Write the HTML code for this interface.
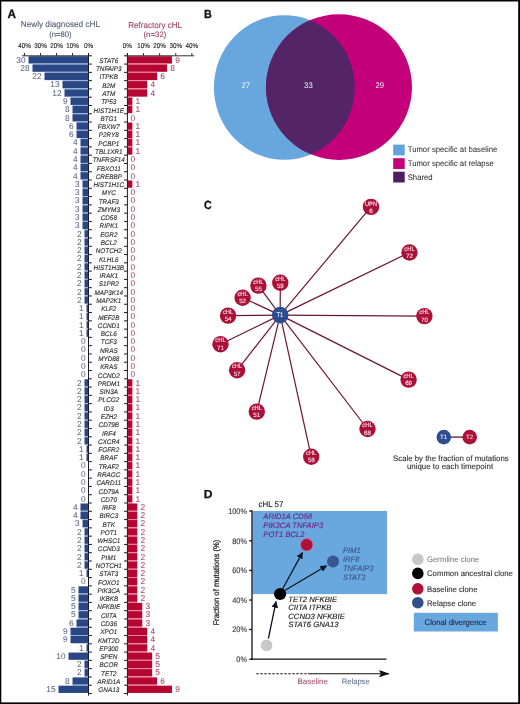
<!DOCTYPE html>
<html><head><meta charset="utf-8"><style>
html,body{margin:0;padding:0;background:#fff;}
body{width:520px;height:704px;overflow:hidden;}
svg{display:block;will-change:transform;}
svg text{font-family:"Liberation Sans", sans-serif;text-rendering:geometricPrecision;}
</style></head><body>
<svg width="520" height="704" viewBox="0 0 520 704">
<rect x="0" y="0" width="520" height="704" fill="#fff"/>
<text x="7.50" y="17.70" font-size="12.3" fill="#111" font-weight="bold" textLength="8.50" lengthAdjust="spacingAndGlyphs" stroke="#111" stroke-width="0.3" >A</text>
<text x="60.40" y="27.40" font-size="8.6" fill="#58647c" text-anchor="middle" textLength="79.20" lengthAdjust="spacingAndGlyphs" stroke="#58647c" stroke-width="0.12" >Newly diagnosed cHL</text>
<text x="60.35" y="36.50" font-size="8.0" fill="#58647c" text-anchor="middle" textLength="22.30" lengthAdjust="spacingAndGlyphs" stroke="#58647c" stroke-width="0.12" >(n=80)</text>
<text x="155.15" y="27.50" font-size="8.6" fill="#a0456a" text-anchor="middle" textLength="53.90" lengthAdjust="spacingAndGlyphs" stroke="#a0456a" stroke-width="0.12" >Refractory cHL</text>
<text x="155.00" y="36.50" font-size="8.0" fill="#a0456a" text-anchor="middle" textLength="23.00" lengthAdjust="spacingAndGlyphs" stroke="#a0456a" stroke-width="0.12" >(n=32)</text>
<text x="88.50" y="47.70" font-size="7.0" fill="#2a2a2a" text-anchor="middle" textLength="9.11" lengthAdjust="spacingAndGlyphs" stroke="#2a2a2a" stroke-width="0.15" >0%</text>
<text x="127.40" y="47.70" font-size="7.0" fill="#2a2a2a" text-anchor="middle" textLength="9.11" lengthAdjust="spacingAndGlyphs" stroke="#2a2a2a" stroke-width="0.15" >0%</text>
<text x="72.50" y="47.70" font-size="7.0" fill="#2a2a2a" text-anchor="middle" textLength="12.61" lengthAdjust="spacingAndGlyphs" stroke="#2a2a2a" stroke-width="0.15" >10%</text>
<text x="143.52" y="47.70" font-size="7.0" fill="#2a2a2a" text-anchor="middle" textLength="12.61" lengthAdjust="spacingAndGlyphs" stroke="#2a2a2a" stroke-width="0.15" >10%</text>
<text x="56.50" y="47.70" font-size="7.0" fill="#2a2a2a" text-anchor="middle" textLength="12.61" lengthAdjust="spacingAndGlyphs" stroke="#2a2a2a" stroke-width="0.15" >20%</text>
<text x="159.64" y="47.70" font-size="7.0" fill="#2a2a2a" text-anchor="middle" textLength="12.61" lengthAdjust="spacingAndGlyphs" stroke="#2a2a2a" stroke-width="0.15" >20%</text>
<text x="40.50" y="47.70" font-size="7.0" fill="#2a2a2a" text-anchor="middle" textLength="12.61" lengthAdjust="spacingAndGlyphs" stroke="#2a2a2a" stroke-width="0.15" >30%</text>
<text x="175.76" y="47.70" font-size="7.0" fill="#2a2a2a" text-anchor="middle" textLength="12.61" lengthAdjust="spacingAndGlyphs" stroke="#2a2a2a" stroke-width="0.15" >30%</text>
<text x="24.50" y="47.70" font-size="7.0" fill="#2a2a2a" text-anchor="middle" textLength="12.61" lengthAdjust="spacingAndGlyphs" stroke="#2a2a2a" stroke-width="0.15" >40%</text>
<text x="191.88" y="47.70" font-size="7.0" fill="#2a2a2a" text-anchor="middle" textLength="12.61" lengthAdjust="spacingAndGlyphs" stroke="#2a2a2a" stroke-width="0.15" >40%</text>
<rect x="28.50" y="56.25" width="60.00" height="7.28" fill="#294785"/>
<rect x="127.40" y="56.25" width="44.58" height="7.28" fill="#b50632"/>
<rect x="32.50" y="63.53" width="56.00" height="1" fill="#8fb0df"/>
<rect x="127.40" y="63.53" width="39.62" height="1" fill="#ef7b95"/>
<text x="25.60" y="62.60" font-size="8.3" fill="#5a6582" text-anchor="end" stroke="#5a6582" stroke-width="0.05" >30</text>
<text x="175.18" y="62.60" font-size="8.3" fill="#a13e5e" stroke="#a13e5e" stroke-width="0.05" >9</text>
<text x="108.80" y="62.85" font-size="6.7" fill="#2e2e2e" text-anchor="middle" font-style="italic" textLength="18.86" lengthAdjust="spacingAndGlyphs" stroke="#2e2e2e" stroke-width="0.13" >STAT6</text>
<rect x="32.50" y="64.53" width="56.00" height="7.28" fill="#294785"/>
<rect x="127.40" y="64.53" width="39.62" height="7.28" fill="#b50632"/>
<rect x="44.50" y="71.81" width="44.00" height="1" fill="#8fb0df"/>
<rect x="127.40" y="71.81" width="29.72" height="1" fill="#ef7b95"/>
<text x="29.60" y="70.88" font-size="8.3" fill="#5a6582" text-anchor="end" stroke="#5a6582" stroke-width="0.05" >28</text>
<text x="170.22" y="70.88" font-size="8.3" fill="#a13e5e" stroke="#a13e5e" stroke-width="0.05" >8</text>
<text x="108.80" y="71.13" font-size="6.7" fill="#2e2e2e" text-anchor="middle" font-style="italic" textLength="25.70" lengthAdjust="spacingAndGlyphs" stroke="#2e2e2e" stroke-width="0.13" >TNFAIP3</text>
<rect x="44.50" y="72.81" width="44.00" height="7.28" fill="#294785"/>
<rect x="127.40" y="72.81" width="29.72" height="7.28" fill="#b50632"/>
<rect x="62.50" y="80.10" width="26.00" height="1" fill="#8fb0df"/>
<rect x="127.40" y="80.10" width="19.81" height="1" fill="#ef7b95"/>
<text x="41.60" y="79.16" font-size="8.3" fill="#5a6582" text-anchor="end" stroke="#5a6582" stroke-width="0.05" >22</text>
<text x="160.32" y="79.16" font-size="8.3" fill="#a13e5e" stroke="#a13e5e" stroke-width="0.05" >6</text>
<text x="108.80" y="79.41" font-size="6.7" fill="#2e2e2e" text-anchor="middle" font-style="italic" textLength="18.39" lengthAdjust="spacingAndGlyphs" stroke="#2e2e2e" stroke-width="0.13" >ITPKB</text>
<rect x="62.50" y="81.10" width="26.00" height="7.28" fill="#294785"/>
<rect x="127.40" y="81.10" width="19.81" height="7.28" fill="#b50632"/>
<rect x="64.50" y="88.38" width="24.00" height="1" fill="#8fb0df"/>
<rect x="127.40" y="88.38" width="19.81" height="1" fill="#ef7b95"/>
<text x="59.60" y="87.45" font-size="8.3" fill="#5a6582" text-anchor="end" stroke="#5a6582" stroke-width="0.05" >13</text>
<text x="150.41" y="87.45" font-size="8.3" fill="#a13e5e" stroke="#a13e5e" stroke-width="0.05" >4</text>
<text x="108.80" y="87.70" font-size="6.7" fill="#2e2e2e" text-anchor="middle" font-style="italic" textLength="13.09" lengthAdjust="spacingAndGlyphs" stroke="#2e2e2e" stroke-width="0.13" >B2M</text>
<rect x="64.50" y="89.38" width="24.00" height="7.28" fill="#294785"/>
<rect x="127.40" y="89.38" width="19.81" height="7.28" fill="#b50632"/>
<rect x="70.50" y="96.66" width="18.00" height="1" fill="#8fb0df"/>
<rect x="127.40" y="96.66" width="4.95" height="1" fill="#ef7b95"/>
<text x="61.60" y="95.73" font-size="8.3" fill="#5a6582" text-anchor="end" stroke="#5a6582" stroke-width="0.05" >12</text>
<text x="150.41" y="95.73" font-size="8.3" fill="#a13e5e" stroke="#a13e5e" stroke-width="0.05" >4</text>
<text x="108.80" y="95.98" font-size="6.7" fill="#2e2e2e" text-anchor="middle" font-style="italic" textLength="12.96" lengthAdjust="spacingAndGlyphs" stroke="#2e2e2e" stroke-width="0.13" >ATM</text>
<rect x="70.50" y="97.66" width="18.00" height="7.28" fill="#294785"/>
<rect x="127.40" y="97.66" width="4.95" height="7.28" fill="#b50632"/>
<rect x="72.50" y="104.94" width="16.00" height="1" fill="#8fb0df"/>
<rect x="127.40" y="104.94" width="4.95" height="1" fill="#ef7b95"/>
<text x="67.60" y="104.01" font-size="8.3" fill="#5a6582" text-anchor="end" stroke="#5a6582" stroke-width="0.05" >9</text>
<text x="135.55" y="104.01" font-size="8.3" fill="#a13e5e" stroke="#a13e5e" stroke-width="0.05" >1</text>
<text x="108.80" y="104.26" font-size="6.7" fill="#2e2e2e" text-anchor="middle" font-style="italic" textLength="15.21" lengthAdjust="spacingAndGlyphs" stroke="#2e2e2e" stroke-width="0.13" >TP53</text>
<rect x="72.50" y="105.94" width="16.00" height="7.28" fill="#294785"/>
<rect x="127.40" y="105.94" width="4.95" height="7.28" fill="#b50632"/>
<rect x="72.50" y="113.22" width="16.00" height="1" fill="#8fb0df"/>
<text x="69.60" y="112.29" font-size="8.3" fill="#5a6582" text-anchor="end" stroke="#5a6582" stroke-width="0.05" >8</text>
<text x="135.55" y="112.29" font-size="8.3" fill="#a13e5e" stroke="#a13e5e" stroke-width="0.05" >1</text>
<text x="108.80" y="112.54" font-size="6.7" fill="#2e2e2e" text-anchor="middle" font-style="italic" textLength="30.42" lengthAdjust="spacingAndGlyphs" stroke="#2e2e2e" stroke-width="0.13" >HIST1H1E</text>
<rect x="72.50" y="114.22" width="16.00" height="7.28" fill="#294785"/>
<rect x="76.50" y="121.51" width="12.00" height="1" fill="#8fb0df"/>
<text x="69.60" y="120.57" font-size="8.3" fill="#5a6582" text-anchor="end" stroke="#5a6582" stroke-width="0.05" >8</text>
<text x="130.60" y="120.57" font-size="8.3" fill="#a13e5e" stroke="#a13e5e" stroke-width="0.05" >0</text>
<text x="108.80" y="120.82" font-size="6.7" fill="#2e2e2e" text-anchor="middle" font-style="italic" textLength="16.62" lengthAdjust="spacingAndGlyphs" stroke="#2e2e2e" stroke-width="0.13" >BTG1</text>
<rect x="76.50" y="122.51" width="12.00" height="7.28" fill="#294785"/>
<rect x="127.40" y="122.51" width="4.95" height="7.28" fill="#b50632"/>
<rect x="76.50" y="129.79" width="12.00" height="1" fill="#8fb0df"/>
<rect x="127.40" y="129.79" width="4.95" height="1" fill="#ef7b95"/>
<text x="73.60" y="128.86" font-size="8.3" fill="#5a6582" text-anchor="end" stroke="#5a6582" stroke-width="0.05" >6</text>
<text x="135.55" y="128.86" font-size="8.3" fill="#a13e5e" stroke="#a13e5e" stroke-width="0.05" >1</text>
<text x="108.80" y="129.11" font-size="6.7" fill="#2e2e2e" text-anchor="middle" font-style="italic" textLength="21.93" lengthAdjust="spacingAndGlyphs" stroke="#2e2e2e" stroke-width="0.13" >FBXW7</text>
<rect x="76.50" y="130.79" width="12.00" height="7.28" fill="#294785"/>
<rect x="127.40" y="130.79" width="4.95" height="7.28" fill="#b50632"/>
<rect x="80.50" y="138.07" width="8.00" height="1" fill="#8fb0df"/>
<rect x="127.40" y="138.07" width="4.95" height="1" fill="#ef7b95"/>
<text x="73.60" y="137.14" font-size="8.3" fill="#5a6582" text-anchor="end" stroke="#5a6582" stroke-width="0.05" >6</text>
<text x="135.55" y="137.14" font-size="8.3" fill="#a13e5e" stroke="#a13e5e" stroke-width="0.05" >1</text>
<text x="108.80" y="137.39" font-size="6.7" fill="#2e2e2e" text-anchor="middle" font-style="italic" textLength="19.93" lengthAdjust="spacingAndGlyphs" stroke="#2e2e2e" stroke-width="0.13" >P2RY8</text>
<rect x="80.50" y="139.07" width="8.00" height="7.28" fill="#294785"/>
<rect x="127.40" y="139.07" width="4.95" height="7.28" fill="#b50632"/>
<rect x="80.50" y="146.35" width="8.00" height="1" fill="#8fb0df"/>
<rect x="127.40" y="146.35" width="4.95" height="1" fill="#ef7b95"/>
<text x="77.60" y="145.42" font-size="8.3" fill="#5a6582" text-anchor="end" stroke="#5a6582" stroke-width="0.05" >4</text>
<text x="135.55" y="145.42" font-size="8.3" fill="#a13e5e" stroke="#a13e5e" stroke-width="0.05" >1</text>
<text x="108.80" y="145.67" font-size="6.7" fill="#2e2e2e" text-anchor="middle" font-style="italic" textLength="20.87" lengthAdjust="spacingAndGlyphs" stroke="#2e2e2e" stroke-width="0.13" >PCBP1</text>
<rect x="80.50" y="147.35" width="8.00" height="7.28" fill="#294785"/>
<rect x="127.40" y="147.35" width="4.95" height="7.28" fill="#b50632"/>
<rect x="80.50" y="154.63" width="8.00" height="1" fill="#8fb0df"/>
<text x="77.60" y="153.70" font-size="8.3" fill="#5a6582" text-anchor="end" stroke="#5a6582" stroke-width="0.05" >4</text>
<text x="135.55" y="153.70" font-size="8.3" fill="#a13e5e" stroke="#a13e5e" stroke-width="0.05" >1</text>
<text x="108.80" y="153.95" font-size="6.7" fill="#2e2e2e" text-anchor="middle" font-style="italic" textLength="27.60" lengthAdjust="spacingAndGlyphs" stroke="#2e2e2e" stroke-width="0.13" >TBL1XR1</text>
<rect x="80.50" y="155.63" width="8.00" height="7.28" fill="#294785"/>
<rect x="80.50" y="162.92" width="8.00" height="1" fill="#8fb0df"/>
<text x="77.60" y="161.98" font-size="8.3" fill="#5a6582" text-anchor="end" stroke="#5a6582" stroke-width="0.05" >4</text>
<text x="130.60" y="161.98" font-size="8.3" fill="#a13e5e" stroke="#a13e5e" stroke-width="0.05" >0</text>
<text x="108.80" y="162.23" font-size="6.7" fill="#2e2e2e" text-anchor="middle" font-style="italic" textLength="32.18" lengthAdjust="spacingAndGlyphs" stroke="#2e2e2e" stroke-width="0.13" >TNFRSF14</text>
<rect x="80.50" y="163.92" width="8.00" height="7.28" fill="#294785"/>
<rect x="80.50" y="171.20" width="8.00" height="1" fill="#8fb0df"/>
<text x="77.60" y="170.27" font-size="8.3" fill="#5a6582" text-anchor="end" stroke="#5a6582" stroke-width="0.05" >4</text>
<text x="130.60" y="170.27" font-size="8.3" fill="#a13e5e" stroke="#a13e5e" stroke-width="0.05" >0</text>
<text x="108.80" y="170.52" font-size="6.7" fill="#2e2e2e" text-anchor="middle" font-style="italic" textLength="23.94" lengthAdjust="spacingAndGlyphs" stroke="#2e2e2e" stroke-width="0.13" >FBXO11</text>
<rect x="80.50" y="172.20" width="8.00" height="7.28" fill="#294785"/>
<rect x="82.50" y="179.48" width="6.00" height="1" fill="#8fb0df"/>
<text x="77.60" y="178.55" font-size="8.3" fill="#5a6582" text-anchor="end" stroke="#5a6582" stroke-width="0.05" >4</text>
<text x="130.60" y="178.55" font-size="8.3" fill="#a13e5e" stroke="#a13e5e" stroke-width="0.05" >0</text>
<text x="108.80" y="178.80" font-size="6.7" fill="#2e2e2e" text-anchor="middle" font-style="italic" textLength="26.18" lengthAdjust="spacingAndGlyphs" stroke="#2e2e2e" stroke-width="0.13" >CREBBP</text>
<rect x="82.50" y="180.48" width="6.00" height="7.28" fill="#294785"/>
<rect x="127.40" y="180.48" width="4.95" height="7.28" fill="#b50632"/>
<rect x="82.50" y="187.76" width="6.00" height="1" fill="#8fb0df"/>
<text x="79.60" y="186.83" font-size="8.3" fill="#5a6582" text-anchor="end" stroke="#5a6582" stroke-width="0.05" >3</text>
<text x="135.55" y="186.83" font-size="8.3" fill="#a13e5e" stroke="#a13e5e" stroke-width="0.05" >1</text>
<text x="108.80" y="187.08" font-size="6.7" fill="#2e2e2e" text-anchor="middle" font-style="italic" textLength="30.77" lengthAdjust="spacingAndGlyphs" stroke="#2e2e2e" stroke-width="0.13" >HIST1H1C</text>
<rect x="82.50" y="188.76" width="6.00" height="7.28" fill="#294785"/>
<rect x="82.50" y="196.04" width="6.00" height="1" fill="#8fb0df"/>
<text x="79.60" y="195.11" font-size="8.3" fill="#5a6582" text-anchor="end" stroke="#5a6582" stroke-width="0.05" >3</text>
<text x="130.60" y="195.11" font-size="8.3" fill="#a13e5e" stroke="#a13e5e" stroke-width="0.05" >0</text>
<text x="108.80" y="195.36" font-size="6.7" fill="#2e2e2e" text-anchor="middle" font-style="italic" textLength="14.14" lengthAdjust="spacingAndGlyphs" stroke="#2e2e2e" stroke-width="0.13" >MYC</text>
<rect x="82.50" y="197.04" width="6.00" height="7.28" fill="#294785"/>
<rect x="82.50" y="204.33" width="6.00" height="1" fill="#8fb0df"/>
<text x="79.60" y="203.39" font-size="8.3" fill="#5a6582" text-anchor="end" stroke="#5a6582" stroke-width="0.05" >3</text>
<text x="130.60" y="203.39" font-size="8.3" fill="#a13e5e" stroke="#a13e5e" stroke-width="0.05" >0</text>
<text x="108.80" y="203.64" font-size="6.7" fill="#2e2e2e" text-anchor="middle" font-style="italic" textLength="20.16" lengthAdjust="spacingAndGlyphs" stroke="#2e2e2e" stroke-width="0.13" >TRAF3</text>
<rect x="82.50" y="205.33" width="6.00" height="7.28" fill="#294785"/>
<rect x="82.50" y="212.61" width="6.00" height="1" fill="#8fb0df"/>
<text x="79.60" y="211.68" font-size="8.3" fill="#5a6582" text-anchor="end" stroke="#5a6582" stroke-width="0.05" >3</text>
<text x="130.60" y="211.68" font-size="8.3" fill="#a13e5e" stroke="#a13e5e" stroke-width="0.05" >0</text>
<text x="108.80" y="211.93" font-size="6.7" fill="#2e2e2e" text-anchor="middle" font-style="italic" textLength="22.28" lengthAdjust="spacingAndGlyphs" stroke="#2e2e2e" stroke-width="0.13" >ZMYM3</text>
<rect x="82.50" y="213.61" width="6.00" height="7.28" fill="#294785"/>
<rect x="82.50" y="220.89" width="6.00" height="1" fill="#8fb0df"/>
<text x="79.60" y="219.96" font-size="8.3" fill="#5a6582" text-anchor="end" stroke="#5a6582" stroke-width="0.05" >3</text>
<text x="130.60" y="219.96" font-size="8.3" fill="#a13e5e" stroke="#a13e5e" stroke-width="0.05" >0</text>
<text x="108.80" y="220.21" font-size="6.7" fill="#2e2e2e" text-anchor="middle" font-style="italic" textLength="16.27" lengthAdjust="spacingAndGlyphs" stroke="#2e2e2e" stroke-width="0.13" >CD58</text>
<rect x="82.50" y="221.89" width="6.00" height="7.28" fill="#294785"/>
<rect x="84.50" y="229.17" width="4.00" height="1" fill="#8fb0df"/>
<text x="79.60" y="228.24" font-size="8.3" fill="#5a6582" text-anchor="end" stroke="#5a6582" stroke-width="0.05" >3</text>
<text x="130.60" y="228.24" font-size="8.3" fill="#a13e5e" stroke="#a13e5e" stroke-width="0.05" >0</text>
<text x="108.80" y="228.49" font-size="6.7" fill="#2e2e2e" text-anchor="middle" font-style="italic" textLength="18.40" lengthAdjust="spacingAndGlyphs" stroke="#2e2e2e" stroke-width="0.13" >RIPK1</text>
<rect x="84.50" y="230.17" width="4.00" height="7.28" fill="#294785"/>
<rect x="84.50" y="237.45" width="4.00" height="1" fill="#8fb0df"/>
<text x="81.60" y="236.52" font-size="8.3" fill="#5a6582" text-anchor="end" stroke="#5a6582" stroke-width="0.05" >2</text>
<text x="130.60" y="236.52" font-size="8.3" fill="#a13e5e" stroke="#a13e5e" stroke-width="0.05" >0</text>
<text x="108.80" y="236.77" font-size="6.7" fill="#2e2e2e" text-anchor="middle" font-style="italic" textLength="17.33" lengthAdjust="spacingAndGlyphs" stroke="#2e2e2e" stroke-width="0.13" >EGR2</text>
<rect x="84.50" y="238.45" width="4.00" height="7.28" fill="#294785"/>
<rect x="84.50" y="245.74" width="4.00" height="1" fill="#8fb0df"/>
<text x="81.60" y="244.80" font-size="8.3" fill="#5a6582" text-anchor="end" stroke="#5a6582" stroke-width="0.05" >2</text>
<text x="130.60" y="244.80" font-size="8.3" fill="#a13e5e" stroke="#a13e5e" stroke-width="0.05" >0</text>
<text x="108.80" y="245.05" font-size="6.7" fill="#2e2e2e" text-anchor="middle" font-style="italic" textLength="15.92" lengthAdjust="spacingAndGlyphs" stroke="#2e2e2e" stroke-width="0.13" >BCL2</text>
<rect x="84.50" y="246.74" width="4.00" height="7.28" fill="#294785"/>
<rect x="84.50" y="254.02" width="4.00" height="1" fill="#8fb0df"/>
<text x="81.60" y="253.09" font-size="8.3" fill="#5a6582" text-anchor="end" stroke="#5a6582" stroke-width="0.05" >2</text>
<text x="130.60" y="253.09" font-size="8.3" fill="#a13e5e" stroke="#a13e5e" stroke-width="0.05" >0</text>
<text x="108.80" y="253.34" font-size="6.7" fill="#2e2e2e" text-anchor="middle" font-style="italic" textLength="26.17" lengthAdjust="spacingAndGlyphs" stroke="#2e2e2e" stroke-width="0.13" >NOTCH2</text>
<rect x="84.50" y="255.02" width="4.00" height="7.28" fill="#294785"/>
<rect x="84.50" y="262.30" width="4.00" height="1" fill="#8fb0df"/>
<text x="81.60" y="261.37" font-size="8.3" fill="#5a6582" text-anchor="end" stroke="#5a6582" stroke-width="0.05" >2</text>
<text x="130.60" y="261.37" font-size="8.3" fill="#a13e5e" stroke="#a13e5e" stroke-width="0.05" >0</text>
<text x="108.80" y="261.62" font-size="6.7" fill="#2e2e2e" text-anchor="middle" font-style="italic" textLength="19.46" lengthAdjust="spacingAndGlyphs" stroke="#2e2e2e" stroke-width="0.13" >KLHL6</text>
<rect x="84.50" y="263.30" width="4.00" height="7.28" fill="#294785"/>
<rect x="84.50" y="270.58" width="4.00" height="1" fill="#8fb0df"/>
<text x="81.60" y="269.65" font-size="8.3" fill="#5a6582" text-anchor="end" stroke="#5a6582" stroke-width="0.05" >2</text>
<text x="130.60" y="269.65" font-size="8.3" fill="#a13e5e" stroke="#a13e5e" stroke-width="0.05" >0</text>
<text x="108.80" y="269.90" font-size="6.7" fill="#2e2e2e" text-anchor="middle" font-style="italic" textLength="30.42" lengthAdjust="spacingAndGlyphs" stroke="#2e2e2e" stroke-width="0.13" >HIST1H3B</text>
<rect x="84.50" y="271.58" width="4.00" height="7.28" fill="#294785"/>
<rect x="84.50" y="278.86" width="4.00" height="1" fill="#8fb0df"/>
<text x="81.60" y="277.93" font-size="8.3" fill="#5a6582" text-anchor="end" stroke="#5a6582" stroke-width="0.05" >2</text>
<text x="130.60" y="277.93" font-size="8.3" fill="#a13e5e" stroke="#a13e5e" stroke-width="0.05" >0</text>
<text x="108.80" y="278.18" font-size="6.7" fill="#2e2e2e" text-anchor="middle" font-style="italic" textLength="18.40" lengthAdjust="spacingAndGlyphs" stroke="#2e2e2e" stroke-width="0.13" >IRAK1</text>
<rect x="84.50" y="279.86" width="4.00" height="7.28" fill="#294785"/>
<rect x="84.50" y="287.15" width="4.00" height="1" fill="#8fb0df"/>
<text x="81.60" y="286.21" font-size="8.3" fill="#5a6582" text-anchor="end" stroke="#5a6582" stroke-width="0.05" >2</text>
<text x="130.60" y="286.21" font-size="8.3" fill="#a13e5e" stroke="#a13e5e" stroke-width="0.05" >0</text>
<text x="108.80" y="286.46" font-size="6.7" fill="#2e2e2e" text-anchor="middle" font-style="italic" textLength="20.17" lengthAdjust="spacingAndGlyphs" stroke="#2e2e2e" stroke-width="0.13" >S1PR2</text>
<rect x="84.50" y="288.15" width="4.00" height="7.28" fill="#294785"/>
<rect x="84.50" y="295.43" width="4.00" height="1" fill="#8fb0df"/>
<text x="81.60" y="294.50" font-size="8.3" fill="#5a6582" text-anchor="end" stroke="#5a6582" stroke-width="0.05" >2</text>
<text x="130.60" y="294.50" font-size="8.3" fill="#a13e5e" stroke="#a13e5e" stroke-width="0.05" >0</text>
<text x="108.80" y="294.75" font-size="6.7" fill="#2e2e2e" text-anchor="middle" font-style="italic" textLength="28.66" lengthAdjust="spacingAndGlyphs" stroke="#2e2e2e" stroke-width="0.13" >MAP3K14</text>
<rect x="84.50" y="296.43" width="4.00" height="7.28" fill="#294785"/>
<rect x="86.50" y="303.71" width="2.00" height="1" fill="#8fb0df"/>
<text x="81.60" y="302.78" font-size="8.3" fill="#5a6582" text-anchor="end" stroke="#5a6582" stroke-width="0.05" >2</text>
<text x="130.60" y="302.78" font-size="8.3" fill="#a13e5e" stroke="#a13e5e" stroke-width="0.05" >0</text>
<text x="108.80" y="303.03" font-size="6.7" fill="#2e2e2e" text-anchor="middle" font-style="italic" textLength="25.12" lengthAdjust="spacingAndGlyphs" stroke="#2e2e2e" stroke-width="0.13" >MAP2K1</text>
<rect x="86.50" y="304.71" width="2.00" height="7.28" fill="#294785"/>
<rect x="86.50" y="311.99" width="2.00" height="1" fill="#8fb0df"/>
<text x="83.60" y="311.06" font-size="8.3" fill="#5a6582" text-anchor="end" stroke="#5a6582" stroke-width="0.05" >1</text>
<text x="130.60" y="311.06" font-size="8.3" fill="#a13e5e" stroke="#a13e5e" stroke-width="0.05" >0</text>
<text x="108.80" y="311.31" font-size="6.7" fill="#2e2e2e" text-anchor="middle" font-style="italic" textLength="15.21" lengthAdjust="spacingAndGlyphs" stroke="#2e2e2e" stroke-width="0.13" >KLF2</text>
<rect x="86.50" y="312.99" width="2.00" height="7.28" fill="#294785"/>
<rect x="86.50" y="320.27" width="2.00" height="1" fill="#8fb0df"/>
<text x="83.60" y="319.34" font-size="8.3" fill="#5a6582" text-anchor="end" stroke="#5a6582" stroke-width="0.05" >1</text>
<text x="130.60" y="319.34" font-size="8.3" fill="#a13e5e" stroke="#a13e5e" stroke-width="0.05" >0</text>
<text x="108.80" y="319.59" font-size="6.7" fill="#2e2e2e" text-anchor="middle" font-style="italic" textLength="21.22" lengthAdjust="spacingAndGlyphs" stroke="#2e2e2e" stroke-width="0.13" >MEF2B</text>
<rect x="86.50" y="321.27" width="2.00" height="7.28" fill="#294785"/>
<rect x="86.50" y="328.56" width="2.00" height="1" fill="#8fb0df"/>
<text x="83.60" y="327.62" font-size="8.3" fill="#5a6582" text-anchor="end" stroke="#5a6582" stroke-width="0.05" >1</text>
<text x="130.60" y="327.62" font-size="8.3" fill="#a13e5e" stroke="#a13e5e" stroke-width="0.05" >0</text>
<text x="108.80" y="327.87" font-size="6.7" fill="#2e2e2e" text-anchor="middle" font-style="italic" textLength="21.93" lengthAdjust="spacingAndGlyphs" stroke="#2e2e2e" stroke-width="0.13" >CCND1</text>
<rect x="86.50" y="329.56" width="2.00" height="7.28" fill="#294785"/>
<text x="83.60" y="335.91" font-size="8.3" fill="#5a6582" text-anchor="end" stroke="#5a6582" stroke-width="0.05" >1</text>
<text x="130.60" y="335.91" font-size="8.3" fill="#a13e5e" stroke="#a13e5e" stroke-width="0.05" >0</text>
<text x="108.80" y="336.16" font-size="6.7" fill="#2e2e2e" text-anchor="middle" font-style="italic" textLength="15.92" lengthAdjust="spacingAndGlyphs" stroke="#2e2e2e" stroke-width="0.13" >BCL6</text>
<text x="85.60" y="344.19" font-size="8.3" fill="#5a6582" text-anchor="end" stroke="#5a6582" stroke-width="0.05" >0</text>
<text x="130.60" y="344.19" font-size="8.3" fill="#a13e5e" stroke="#a13e5e" stroke-width="0.05" >0</text>
<text x="108.80" y="344.44" font-size="6.7" fill="#2e2e2e" text-anchor="middle" font-style="italic" textLength="15.91" lengthAdjust="spacingAndGlyphs" stroke="#2e2e2e" stroke-width="0.13" >TCF3</text>
<text x="85.60" y="352.47" font-size="8.3" fill="#5a6582" text-anchor="end" stroke="#5a6582" stroke-width="0.05" >0</text>
<text x="130.60" y="352.47" font-size="8.3" fill="#a13e5e" stroke="#a13e5e" stroke-width="0.05" >0</text>
<text x="108.80" y="352.72" font-size="6.7" fill="#2e2e2e" text-anchor="middle" font-style="italic" textLength="17.68" lengthAdjust="spacingAndGlyphs" stroke="#2e2e2e" stroke-width="0.13" >NRAS</text>
<text x="85.60" y="360.75" font-size="8.3" fill="#5a6582" text-anchor="end" stroke="#5a6582" stroke-width="0.05" >0</text>
<text x="130.60" y="360.75" font-size="8.3" fill="#a13e5e" stroke="#a13e5e" stroke-width="0.05" >0</text>
<text x="108.80" y="361.00" font-size="6.7" fill="#2e2e2e" text-anchor="middle" font-style="italic" textLength="21.22" lengthAdjust="spacingAndGlyphs" stroke="#2e2e2e" stroke-width="0.13" >MYD88</text>
<text x="85.60" y="369.03" font-size="8.3" fill="#5a6582" text-anchor="end" stroke="#5a6582" stroke-width="0.05" >0</text>
<text x="130.60" y="369.03" font-size="8.3" fill="#a13e5e" stroke="#a13e5e" stroke-width="0.05" >0</text>
<text x="108.80" y="369.28" font-size="6.7" fill="#2e2e2e" text-anchor="middle" font-style="italic" textLength="17.33" lengthAdjust="spacingAndGlyphs" stroke="#2e2e2e" stroke-width="0.13" >KRAS</text>
<text x="85.60" y="377.32" font-size="8.3" fill="#5a6582" text-anchor="end" stroke="#5a6582" stroke-width="0.05" >0</text>
<text x="130.60" y="377.32" font-size="8.3" fill="#a13e5e" stroke="#a13e5e" stroke-width="0.05" >0</text>
<text x="108.80" y="377.57" font-size="6.7" fill="#2e2e2e" text-anchor="middle" font-style="italic" textLength="21.93" lengthAdjust="spacingAndGlyphs" stroke="#2e2e2e" stroke-width="0.13" >CCND2</text>
<rect x="84.50" y="379.25" width="4.00" height="7.28" fill="#294785"/>
<rect x="127.40" y="379.25" width="4.95" height="7.28" fill="#b50632"/>
<rect x="84.50" y="386.53" width="4.00" height="1" fill="#8fb0df"/>
<rect x="127.40" y="386.53" width="4.95" height="1" fill="#ef7b95"/>
<text x="81.60" y="385.60" font-size="8.3" fill="#5a6582" text-anchor="end" stroke="#5a6582" stroke-width="0.05" >2</text>
<text x="135.55" y="385.60" font-size="8.3" fill="#a13e5e" stroke="#a13e5e" stroke-width="0.05" >1</text>
<text x="108.80" y="385.85" font-size="6.7" fill="#2e2e2e" text-anchor="middle" font-style="italic" textLength="22.28" lengthAdjust="spacingAndGlyphs" stroke="#2e2e2e" stroke-width="0.13" >PRDM1</text>
<rect x="84.50" y="387.53" width="4.00" height="7.28" fill="#294785"/>
<rect x="127.40" y="387.53" width="4.95" height="7.28" fill="#b50632"/>
<rect x="84.50" y="394.81" width="4.00" height="1" fill="#8fb0df"/>
<rect x="127.40" y="394.81" width="4.95" height="1" fill="#ef7b95"/>
<text x="81.60" y="393.88" font-size="8.3" fill="#5a6582" text-anchor="end" stroke="#5a6582" stroke-width="0.05" >2</text>
<text x="135.55" y="393.88" font-size="8.3" fill="#a13e5e" stroke="#a13e5e" stroke-width="0.05" >1</text>
<text x="108.80" y="394.13" font-size="6.7" fill="#2e2e2e" text-anchor="middle" font-style="italic" textLength="18.40" lengthAdjust="spacingAndGlyphs" stroke="#2e2e2e" stroke-width="0.13" >SIN3A</text>
<rect x="84.50" y="395.81" width="4.00" height="7.28" fill="#294785"/>
<rect x="127.40" y="395.81" width="4.95" height="7.28" fill="#b50632"/>
<rect x="84.50" y="403.09" width="4.00" height="1" fill="#8fb0df"/>
<rect x="127.40" y="403.09" width="4.95" height="1" fill="#ef7b95"/>
<text x="81.60" y="402.16" font-size="8.3" fill="#5a6582" text-anchor="end" stroke="#5a6582" stroke-width="0.05" >2</text>
<text x="135.55" y="402.16" font-size="8.3" fill="#a13e5e" stroke="#a13e5e" stroke-width="0.05" >1</text>
<text x="108.80" y="402.41" font-size="6.7" fill="#2e2e2e" text-anchor="middle" font-style="italic" textLength="20.87" lengthAdjust="spacingAndGlyphs" stroke="#2e2e2e" stroke-width="0.13" >PLCG2</text>
<rect x="84.50" y="404.09" width="4.00" height="7.28" fill="#294785"/>
<rect x="127.40" y="404.09" width="4.95" height="7.28" fill="#b50632"/>
<rect x="84.50" y="411.38" width="4.00" height="1" fill="#8fb0df"/>
<rect x="127.40" y="411.38" width="4.95" height="1" fill="#ef7b95"/>
<text x="81.60" y="410.44" font-size="8.3" fill="#5a6582" text-anchor="end" stroke="#5a6582" stroke-width="0.05" >2</text>
<text x="135.55" y="410.44" font-size="8.3" fill="#a13e5e" stroke="#a13e5e" stroke-width="0.05" >1</text>
<text x="108.80" y="410.69" font-size="6.7" fill="#2e2e2e" text-anchor="middle" font-style="italic" textLength="9.91" lengthAdjust="spacingAndGlyphs" stroke="#2e2e2e" stroke-width="0.13" >ID3</text>
<rect x="84.50" y="412.38" width="4.00" height="7.28" fill="#294785"/>
<rect x="127.40" y="412.38" width="4.95" height="7.28" fill="#b50632"/>
<rect x="84.50" y="419.66" width="4.00" height="1" fill="#8fb0df"/>
<rect x="127.40" y="419.66" width="4.95" height="1" fill="#ef7b95"/>
<text x="81.60" y="418.73" font-size="8.3" fill="#5a6582" text-anchor="end" stroke="#5a6582" stroke-width="0.05" >2</text>
<text x="135.55" y="418.73" font-size="8.3" fill="#a13e5e" stroke="#a13e5e" stroke-width="0.05" >1</text>
<text x="108.80" y="418.98" font-size="6.7" fill="#2e2e2e" text-anchor="middle" font-style="italic" textLength="16.27" lengthAdjust="spacingAndGlyphs" stroke="#2e2e2e" stroke-width="0.13" >EZH2</text>
<rect x="84.50" y="420.66" width="4.00" height="7.28" fill="#294785"/>
<rect x="127.40" y="420.66" width="4.95" height="7.28" fill="#b50632"/>
<rect x="84.50" y="427.94" width="4.00" height="1" fill="#8fb0df"/>
<rect x="127.40" y="427.94" width="4.95" height="1" fill="#ef7b95"/>
<text x="81.60" y="427.01" font-size="8.3" fill="#5a6582" text-anchor="end" stroke="#5a6582" stroke-width="0.05" >2</text>
<text x="135.55" y="427.01" font-size="8.3" fill="#a13e5e" stroke="#a13e5e" stroke-width="0.05" >1</text>
<text x="108.80" y="427.26" font-size="6.7" fill="#2e2e2e" text-anchor="middle" font-style="italic" textLength="20.52" lengthAdjust="spacingAndGlyphs" stroke="#2e2e2e" stroke-width="0.13" >CD79B</text>
<rect x="84.50" y="428.94" width="4.00" height="7.28" fill="#294785"/>
<rect x="127.40" y="428.94" width="4.95" height="7.28" fill="#b50632"/>
<rect x="84.50" y="436.22" width="4.00" height="1" fill="#8fb0df"/>
<rect x="127.40" y="436.22" width="4.95" height="1" fill="#ef7b95"/>
<text x="81.60" y="435.29" font-size="8.3" fill="#5a6582" text-anchor="end" stroke="#5a6582" stroke-width="0.05" >2</text>
<text x="135.55" y="435.29" font-size="8.3" fill="#a13e5e" stroke="#a13e5e" stroke-width="0.05" >1</text>
<text x="108.80" y="435.54" font-size="6.7" fill="#2e2e2e" text-anchor="middle" font-style="italic" textLength="13.79" lengthAdjust="spacingAndGlyphs" stroke="#2e2e2e" stroke-width="0.13" >IRF4</text>
<rect x="84.50" y="437.22" width="4.00" height="7.28" fill="#294785"/>
<rect x="127.40" y="437.22" width="4.95" height="7.28" fill="#b50632"/>
<rect x="86.50" y="444.50" width="2.00" height="1" fill="#8fb0df"/>
<rect x="127.40" y="444.50" width="4.95" height="1" fill="#ef7b95"/>
<text x="81.60" y="443.57" font-size="8.3" fill="#5a6582" text-anchor="end" stroke="#5a6582" stroke-width="0.05" >2</text>
<text x="135.55" y="443.57" font-size="8.3" fill="#a13e5e" stroke="#a13e5e" stroke-width="0.05" >1</text>
<text x="108.80" y="443.82" font-size="6.7" fill="#2e2e2e" text-anchor="middle" font-style="italic" textLength="21.58" lengthAdjust="spacingAndGlyphs" stroke="#2e2e2e" stroke-width="0.13" >CXCR4</text>
<rect x="86.50" y="445.50" width="2.00" height="7.28" fill="#294785"/>
<rect x="127.40" y="445.50" width="4.95" height="7.28" fill="#b50632"/>
<rect x="86.50" y="452.79" width="2.00" height="1" fill="#8fb0df"/>
<rect x="127.40" y="452.79" width="4.95" height="1" fill="#ef7b95"/>
<text x="83.60" y="451.85" font-size="8.3" fill="#5a6582" text-anchor="end" stroke="#5a6582" stroke-width="0.05" >1</text>
<text x="135.55" y="451.85" font-size="8.3" fill="#a13e5e" stroke="#a13e5e" stroke-width="0.05" >1</text>
<text x="108.80" y="452.10" font-size="6.7" fill="#2e2e2e" text-anchor="middle" font-style="italic" textLength="20.86" lengthAdjust="spacingAndGlyphs" stroke="#2e2e2e" stroke-width="0.13" >FGFR2</text>
<rect x="86.50" y="453.79" width="2.00" height="7.28" fill="#294785"/>
<rect x="127.40" y="453.79" width="4.95" height="7.28" fill="#b50632"/>
<rect x="127.40" y="461.07" width="4.95" height="1" fill="#ef7b95"/>
<text x="83.60" y="460.14" font-size="8.3" fill="#5a6582" text-anchor="end" stroke="#5a6582" stroke-width="0.05" >1</text>
<text x="135.55" y="460.14" font-size="8.3" fill="#a13e5e" stroke="#a13e5e" stroke-width="0.05" >1</text>
<text x="108.80" y="460.39" font-size="6.7" fill="#2e2e2e" text-anchor="middle" font-style="italic" textLength="16.98" lengthAdjust="spacingAndGlyphs" stroke="#2e2e2e" stroke-width="0.13" >BRAF</text>
<rect x="127.40" y="462.07" width="4.95" height="7.28" fill="#b50632"/>
<rect x="127.40" y="469.35" width="4.95" height="1" fill="#ef7b95"/>
<text x="85.60" y="468.42" font-size="8.3" fill="#5a6582" text-anchor="end" stroke="#5a6582" stroke-width="0.05" >0</text>
<text x="135.55" y="468.42" font-size="8.3" fill="#a13e5e" stroke="#a13e5e" stroke-width="0.05" >1</text>
<text x="108.80" y="468.67" font-size="6.7" fill="#2e2e2e" text-anchor="middle" font-style="italic" textLength="20.16" lengthAdjust="spacingAndGlyphs" stroke="#2e2e2e" stroke-width="0.13" >TRAF2</text>
<rect x="127.40" y="470.35" width="4.95" height="7.28" fill="#b50632"/>
<rect x="127.40" y="477.63" width="4.95" height="1" fill="#ef7b95"/>
<text x="85.60" y="476.70" font-size="8.3" fill="#5a6582" text-anchor="end" stroke="#5a6582" stroke-width="0.05" >0</text>
<text x="135.55" y="476.70" font-size="8.3" fill="#a13e5e" stroke="#a13e5e" stroke-width="0.05" >1</text>
<text x="108.80" y="476.95" font-size="6.7" fill="#2e2e2e" text-anchor="middle" font-style="italic" textLength="22.99" lengthAdjust="spacingAndGlyphs" stroke="#2e2e2e" stroke-width="0.13" >RRAGC</text>
<rect x="127.40" y="478.63" width="4.95" height="7.28" fill="#b50632"/>
<rect x="127.40" y="485.91" width="4.95" height="1" fill="#ef7b95"/>
<text x="85.60" y="484.98" font-size="8.3" fill="#5a6582" text-anchor="end" stroke="#5a6582" stroke-width="0.05" >0</text>
<text x="135.55" y="484.98" font-size="8.3" fill="#a13e5e" stroke="#a13e5e" stroke-width="0.05" >1</text>
<text x="108.80" y="485.23" font-size="6.7" fill="#2e2e2e" text-anchor="middle" font-style="italic" textLength="24.64" lengthAdjust="spacingAndGlyphs" stroke="#2e2e2e" stroke-width="0.13" >CARD11</text>
<rect x="127.40" y="486.91" width="4.95" height="7.28" fill="#b50632"/>
<rect x="127.40" y="494.20" width="4.95" height="1" fill="#ef7b95"/>
<text x="85.60" y="493.26" font-size="8.3" fill="#5a6582" text-anchor="end" stroke="#5a6582" stroke-width="0.05" >0</text>
<text x="135.55" y="493.26" font-size="8.3" fill="#a13e5e" stroke="#a13e5e" stroke-width="0.05" >1</text>
<text x="108.80" y="493.51" font-size="6.7" fill="#2e2e2e" text-anchor="middle" font-style="italic" textLength="20.52" lengthAdjust="spacingAndGlyphs" stroke="#2e2e2e" stroke-width="0.13" >CD79A</text>
<rect x="127.40" y="495.20" width="4.95" height="7.28" fill="#b50632"/>
<rect x="127.40" y="502.48" width="4.95" height="1" fill="#ef7b95"/>
<text x="85.60" y="501.55" font-size="8.3" fill="#5a6582" text-anchor="end" stroke="#5a6582" stroke-width="0.05" >0</text>
<text x="135.55" y="501.55" font-size="8.3" fill="#a13e5e" stroke="#a13e5e" stroke-width="0.05" >1</text>
<text x="108.80" y="501.80" font-size="6.7" fill="#2e2e2e" text-anchor="middle" font-style="italic" textLength="16.27" lengthAdjust="spacingAndGlyphs" stroke="#2e2e2e" stroke-width="0.13" >CD70</text>
<rect x="80.50" y="503.48" width="8.00" height="7.28" fill="#294785"/>
<rect x="127.40" y="503.48" width="9.91" height="7.28" fill="#b50632"/>
<rect x="80.50" y="510.76" width="8.00" height="1" fill="#8fb0df"/>
<rect x="127.40" y="510.76" width="9.91" height="1" fill="#ef7b95"/>
<text x="77.60" y="509.83" font-size="8.3" fill="#5a6582" text-anchor="end" stroke="#5a6582" stroke-width="0.05" >4</text>
<text x="140.51" y="509.83" font-size="8.3" fill="#a13e5e" stroke="#a13e5e" stroke-width="0.05" >2</text>
<text x="108.80" y="510.08" font-size="6.7" fill="#2e2e2e" text-anchor="middle" font-style="italic" textLength="13.79" lengthAdjust="spacingAndGlyphs" stroke="#2e2e2e" stroke-width="0.13" >IRF8</text>
<rect x="80.50" y="511.76" width="8.00" height="7.28" fill="#294785"/>
<rect x="127.40" y="511.76" width="9.91" height="7.28" fill="#b50632"/>
<rect x="82.50" y="519.04" width="6.00" height="1" fill="#8fb0df"/>
<rect x="127.40" y="519.04" width="9.91" height="1" fill="#ef7b95"/>
<text x="77.60" y="518.11" font-size="8.3" fill="#5a6582" text-anchor="end" stroke="#5a6582" stroke-width="0.05" >4</text>
<text x="140.51" y="518.11" font-size="8.3" fill="#a13e5e" stroke="#a13e5e" stroke-width="0.05" >2</text>
<text x="108.80" y="518.36" font-size="6.7" fill="#2e2e2e" text-anchor="middle" font-style="italic" textLength="18.75" lengthAdjust="spacingAndGlyphs" stroke="#2e2e2e" stroke-width="0.13" >BIRC3</text>
<rect x="82.50" y="520.04" width="6.00" height="7.28" fill="#294785"/>
<rect x="127.40" y="520.04" width="9.91" height="7.28" fill="#b50632"/>
<rect x="84.50" y="527.32" width="4.00" height="1" fill="#8fb0df"/>
<rect x="127.40" y="527.32" width="9.91" height="1" fill="#ef7b95"/>
<text x="79.60" y="526.39" font-size="8.3" fill="#5a6582" text-anchor="end" stroke="#5a6582" stroke-width="0.05" >3</text>
<text x="140.51" y="526.39" font-size="8.3" fill="#a13e5e" stroke="#a13e5e" stroke-width="0.05" >2</text>
<text x="108.80" y="526.64" font-size="6.7" fill="#2e2e2e" text-anchor="middle" font-style="italic" textLength="12.38" lengthAdjust="spacingAndGlyphs" stroke="#2e2e2e" stroke-width="0.13" >BTK</text>
<rect x="84.50" y="528.32" width="4.00" height="7.28" fill="#294785"/>
<rect x="127.40" y="528.32" width="9.91" height="7.28" fill="#b50632"/>
<rect x="84.50" y="535.61" width="4.00" height="1" fill="#8fb0df"/>
<rect x="127.40" y="535.61" width="9.91" height="1" fill="#ef7b95"/>
<text x="81.60" y="534.67" font-size="8.3" fill="#5a6582" text-anchor="end" stroke="#5a6582" stroke-width="0.05" >2</text>
<text x="140.51" y="534.67" font-size="8.3" fill="#a13e5e" stroke="#a13e5e" stroke-width="0.05" >2</text>
<text x="108.80" y="534.92" font-size="6.7" fill="#2e2e2e" text-anchor="middle" font-style="italic" textLength="16.62" lengthAdjust="spacingAndGlyphs" stroke="#2e2e2e" stroke-width="0.13" >POT1</text>
<rect x="84.50" y="536.61" width="4.00" height="7.28" fill="#294785"/>
<rect x="127.40" y="536.61" width="9.91" height="7.28" fill="#b50632"/>
<rect x="84.50" y="543.89" width="4.00" height="1" fill="#8fb0df"/>
<rect x="127.40" y="543.89" width="9.91" height="1" fill="#ef7b95"/>
<text x="81.60" y="542.96" font-size="8.3" fill="#5a6582" text-anchor="end" stroke="#5a6582" stroke-width="0.05" >2</text>
<text x="140.51" y="542.96" font-size="8.3" fill="#a13e5e" stroke="#a13e5e" stroke-width="0.05" >2</text>
<text x="108.80" y="543.21" font-size="6.7" fill="#2e2e2e" text-anchor="middle" font-style="italic" textLength="22.99" lengthAdjust="spacingAndGlyphs" stroke="#2e2e2e" stroke-width="0.13" >WHSC1</text>
<rect x="84.50" y="544.89" width="4.00" height="7.28" fill="#294785"/>
<rect x="127.40" y="544.89" width="9.91" height="7.28" fill="#b50632"/>
<rect x="84.50" y="552.17" width="4.00" height="1" fill="#8fb0df"/>
<rect x="127.40" y="552.17" width="9.91" height="1" fill="#ef7b95"/>
<text x="81.60" y="551.24" font-size="8.3" fill="#5a6582" text-anchor="end" stroke="#5a6582" stroke-width="0.05" >2</text>
<text x="140.51" y="551.24" font-size="8.3" fill="#a13e5e" stroke="#a13e5e" stroke-width="0.05" >2</text>
<text x="108.80" y="551.49" font-size="6.7" fill="#2e2e2e" text-anchor="middle" font-style="italic" textLength="21.93" lengthAdjust="spacingAndGlyphs" stroke="#2e2e2e" stroke-width="0.13" >CCND3</text>
<rect x="84.50" y="553.17" width="4.00" height="7.28" fill="#294785"/>
<rect x="127.40" y="553.17" width="9.91" height="7.28" fill="#b50632"/>
<rect x="84.50" y="560.45" width="4.00" height="1" fill="#8fb0df"/>
<rect x="127.40" y="560.45" width="9.91" height="1" fill="#ef7b95"/>
<text x="81.60" y="559.52" font-size="8.3" fill="#5a6582" text-anchor="end" stroke="#5a6582" stroke-width="0.05" >2</text>
<text x="140.51" y="559.52" font-size="8.3" fill="#a13e5e" stroke="#a13e5e" stroke-width="0.05" >2</text>
<text x="108.80" y="559.77" font-size="6.7" fill="#2e2e2e" text-anchor="middle" font-style="italic" textLength="14.86" lengthAdjust="spacingAndGlyphs" stroke="#2e2e2e" stroke-width="0.13" >PIM1</text>
<rect x="84.50" y="561.45" width="4.00" height="7.28" fill="#294785"/>
<rect x="127.40" y="561.45" width="9.91" height="7.28" fill="#b50632"/>
<rect x="86.50" y="568.73" width="2.00" height="1" fill="#8fb0df"/>
<rect x="127.40" y="568.73" width="9.91" height="1" fill="#ef7b95"/>
<text x="81.60" y="567.80" font-size="8.3" fill="#5a6582" text-anchor="end" stroke="#5a6582" stroke-width="0.05" >2</text>
<text x="140.51" y="567.80" font-size="8.3" fill="#a13e5e" stroke="#a13e5e" stroke-width="0.05" >2</text>
<text x="108.80" y="568.05" font-size="6.7" fill="#2e2e2e" text-anchor="middle" font-style="italic" textLength="26.17" lengthAdjust="spacingAndGlyphs" stroke="#2e2e2e" stroke-width="0.13" >NOTCH1</text>
<rect x="86.50" y="569.73" width="2.00" height="7.28" fill="#294785"/>
<rect x="127.40" y="569.73" width="9.91" height="7.28" fill="#b50632"/>
<rect x="127.40" y="577.02" width="9.91" height="1" fill="#ef7b95"/>
<text x="83.60" y="576.08" font-size="8.3" fill="#5a6582" text-anchor="end" stroke="#5a6582" stroke-width="0.05" >1</text>
<text x="140.51" y="576.08" font-size="8.3" fill="#a13e5e" stroke="#a13e5e" stroke-width="0.05" >2</text>
<text x="108.80" y="576.33" font-size="6.7" fill="#2e2e2e" text-anchor="middle" font-style="italic" textLength="18.86" lengthAdjust="spacingAndGlyphs" stroke="#2e2e2e" stroke-width="0.13" >STAT3</text>
<rect x="127.40" y="578.02" width="9.91" height="7.28" fill="#b50632"/>
<rect x="127.40" y="585.30" width="9.91" height="1" fill="#ef7b95"/>
<text x="85.60" y="584.37" font-size="8.3" fill="#5a6582" text-anchor="end" stroke="#5a6582" stroke-width="0.05" >0</text>
<text x="140.51" y="584.37" font-size="8.3" fill="#a13e5e" stroke="#a13e5e" stroke-width="0.05" >2</text>
<text x="108.80" y="584.62" font-size="6.7" fill="#2e2e2e" text-anchor="middle" font-style="italic" textLength="21.58" lengthAdjust="spacingAndGlyphs" stroke="#2e2e2e" stroke-width="0.13" >FOXO1</text>
<rect x="78.50" y="586.30" width="10.00" height="7.28" fill="#294785"/>
<rect x="127.40" y="586.30" width="9.91" height="7.28" fill="#b50632"/>
<rect x="78.50" y="593.58" width="10.00" height="1" fill="#8fb0df"/>
<rect x="127.40" y="593.58" width="9.91" height="1" fill="#ef7b95"/>
<text x="75.60" y="592.65" font-size="8.3" fill="#5a6582" text-anchor="end" stroke="#5a6582" stroke-width="0.05" >5</text>
<text x="140.51" y="592.65" font-size="8.3" fill="#a13e5e" stroke="#a13e5e" stroke-width="0.05" >2</text>
<text x="108.80" y="592.90" font-size="6.7" fill="#2e2e2e" text-anchor="middle" font-style="italic" textLength="22.64" lengthAdjust="spacingAndGlyphs" stroke="#2e2e2e" stroke-width="0.13" >PIK3CA</text>
<rect x="78.50" y="594.58" width="10.00" height="7.28" fill="#294785"/>
<rect x="127.40" y="594.58" width="9.91" height="7.28" fill="#b50632"/>
<rect x="78.50" y="601.86" width="10.00" height="1" fill="#8fb0df"/>
<rect x="127.40" y="601.86" width="9.91" height="1" fill="#ef7b95"/>
<text x="75.60" y="600.93" font-size="8.3" fill="#5a6582" text-anchor="end" stroke="#5a6582" stroke-width="0.05" >5</text>
<text x="140.51" y="600.93" font-size="8.3" fill="#a13e5e" stroke="#a13e5e" stroke-width="0.05" >2</text>
<text x="108.80" y="601.18" font-size="6.7" fill="#2e2e2e" text-anchor="middle" font-style="italic" textLength="18.75" lengthAdjust="spacingAndGlyphs" stroke="#2e2e2e" stroke-width="0.13" >IKBKB</text>
<rect x="78.50" y="602.86" width="10.00" height="7.28" fill="#294785"/>
<rect x="127.40" y="602.86" width="14.86" height="7.28" fill="#b50632"/>
<rect x="78.50" y="610.14" width="10.00" height="1" fill="#8fb0df"/>
<rect x="127.40" y="610.14" width="14.86" height="1" fill="#ef7b95"/>
<text x="75.60" y="609.21" font-size="8.3" fill="#5a6582" text-anchor="end" stroke="#5a6582" stroke-width="0.05" >5</text>
<text x="145.46" y="609.21" font-size="8.3" fill="#a13e5e" stroke="#a13e5e" stroke-width="0.05" >3</text>
<text x="108.80" y="609.46" font-size="6.7" fill="#2e2e2e" text-anchor="middle" font-style="italic" textLength="22.99" lengthAdjust="spacingAndGlyphs" stroke="#2e2e2e" stroke-width="0.13" >NFKBIE</text>
<rect x="78.50" y="611.14" width="10.00" height="7.28" fill="#294785"/>
<rect x="127.40" y="611.14" width="14.86" height="7.28" fill="#b50632"/>
<rect x="78.50" y="618.43" width="10.00" height="1" fill="#8fb0df"/>
<rect x="127.40" y="618.43" width="14.86" height="1" fill="#ef7b95"/>
<text x="75.60" y="617.49" font-size="8.3" fill="#5a6582" text-anchor="end" stroke="#5a6582" stroke-width="0.05" >5</text>
<text x="145.46" y="617.49" font-size="8.3" fill="#a13e5e" stroke="#a13e5e" stroke-width="0.05" >3</text>
<text x="108.80" y="617.74" font-size="6.7" fill="#2e2e2e" text-anchor="middle" font-style="italic" textLength="15.79" lengthAdjust="spacingAndGlyphs" stroke="#2e2e2e" stroke-width="0.13" >CIITA</text>
<rect x="76.50" y="619.43" width="12.00" height="7.28" fill="#294785"/>
<rect x="127.40" y="619.43" width="14.86" height="7.28" fill="#b50632"/>
<rect x="76.50" y="626.71" width="12.00" height="1" fill="#8fb0df"/>
<rect x="127.40" y="626.71" width="14.86" height="1" fill="#ef7b95"/>
<text x="73.60" y="625.78" font-size="8.3" fill="#5a6582" text-anchor="end" stroke="#5a6582" stroke-width="0.05" >6</text>
<text x="145.46" y="625.78" font-size="8.3" fill="#a13e5e" stroke="#a13e5e" stroke-width="0.05" >3</text>
<text x="108.80" y="626.03" font-size="6.7" fill="#2e2e2e" text-anchor="middle" font-style="italic" textLength="16.27" lengthAdjust="spacingAndGlyphs" stroke="#2e2e2e" stroke-width="0.13" >CD36</text>
<rect x="70.50" y="627.71" width="18.00" height="7.28" fill="#294785"/>
<rect x="127.40" y="627.71" width="19.81" height="7.28" fill="#b50632"/>
<rect x="70.50" y="634.99" width="18.00" height="1" fill="#8fb0df"/>
<rect x="127.40" y="634.99" width="19.81" height="1" fill="#ef7b95"/>
<text x="67.60" y="634.06" font-size="8.3" fill="#5a6582" text-anchor="end" stroke="#5a6582" stroke-width="0.05" >9</text>
<text x="150.41" y="634.06" font-size="8.3" fill="#a13e5e" stroke="#a13e5e" stroke-width="0.05" >4</text>
<text x="108.80" y="634.31" font-size="6.7" fill="#2e2e2e" text-anchor="middle" font-style="italic" textLength="16.98" lengthAdjust="spacingAndGlyphs" stroke="#2e2e2e" stroke-width="0.13" >XPO1</text>
<rect x="70.50" y="635.99" width="18.00" height="7.28" fill="#294785"/>
<rect x="127.40" y="635.99" width="19.81" height="7.28" fill="#b50632"/>
<rect x="86.50" y="643.27" width="2.00" height="1" fill="#8fb0df"/>
<rect x="127.40" y="643.27" width="19.81" height="1" fill="#ef7b95"/>
<text x="67.60" y="642.34" font-size="8.3" fill="#5a6582" text-anchor="end" stroke="#5a6582" stroke-width="0.05" >9</text>
<text x="150.41" y="642.34" font-size="8.3" fill="#a13e5e" stroke="#a13e5e" stroke-width="0.05" >4</text>
<text x="108.80" y="642.59" font-size="6.7" fill="#2e2e2e" text-anchor="middle" font-style="italic" textLength="21.57" lengthAdjust="spacingAndGlyphs" stroke="#2e2e2e" stroke-width="0.13" >KMT2D</text>
<rect x="86.50" y="644.27" width="2.00" height="7.28" fill="#294785"/>
<rect x="127.40" y="644.27" width="19.81" height="7.28" fill="#b50632"/>
<rect x="86.50" y="651.55" width="2.00" height="1" fill="#8fb0df"/>
<rect x="127.40" y="651.55" width="19.81" height="1" fill="#ef7b95"/>
<text x="83.60" y="650.62" font-size="8.3" fill="#5a6582" text-anchor="end" stroke="#5a6582" stroke-width="0.05" >1</text>
<text x="150.41" y="650.62" font-size="8.3" fill="#a13e5e" stroke="#a13e5e" stroke-width="0.05" >4</text>
<text x="108.80" y="650.87" font-size="6.7" fill="#2e2e2e" text-anchor="middle" font-style="italic" textLength="19.11" lengthAdjust="spacingAndGlyphs" stroke="#2e2e2e" stroke-width="0.13" >EP300</text>
<rect x="68.50" y="652.55" width="20.00" height="7.28" fill="#294785"/>
<rect x="127.40" y="652.55" width="24.77" height="7.28" fill="#b50632"/>
<rect x="84.50" y="659.84" width="4.00" height="1" fill="#8fb0df"/>
<rect x="127.40" y="659.84" width="24.77" height="1" fill="#ef7b95"/>
<text x="65.60" y="658.90" font-size="8.3" fill="#5a6582" text-anchor="end" stroke="#5a6582" stroke-width="0.05" >10</text>
<text x="155.37" y="658.90" font-size="8.3" fill="#a13e5e" stroke="#a13e5e" stroke-width="0.05" >5</text>
<text x="108.80" y="659.15" font-size="6.7" fill="#2e2e2e" text-anchor="middle" font-style="italic" textLength="17.33" lengthAdjust="spacingAndGlyphs" stroke="#2e2e2e" stroke-width="0.13" >SPEN</text>
<rect x="84.50" y="660.84" width="4.00" height="7.28" fill="#294785"/>
<rect x="127.40" y="660.84" width="24.77" height="7.28" fill="#b50632"/>
<rect x="84.50" y="668.12" width="4.00" height="1" fill="#8fb0df"/>
<rect x="127.40" y="668.12" width="24.77" height="1" fill="#ef7b95"/>
<text x="81.60" y="667.19" font-size="8.3" fill="#5a6582" text-anchor="end" stroke="#5a6582" stroke-width="0.05" >2</text>
<text x="155.37" y="667.19" font-size="8.3" fill="#a13e5e" stroke="#a13e5e" stroke-width="0.05" >5</text>
<text x="108.80" y="667.44" font-size="6.7" fill="#2e2e2e" text-anchor="middle" font-style="italic" textLength="18.39" lengthAdjust="spacingAndGlyphs" stroke="#2e2e2e" stroke-width="0.13" >BCOR</text>
<rect x="84.50" y="669.12" width="4.00" height="7.28" fill="#294785"/>
<rect x="127.40" y="669.12" width="24.77" height="7.28" fill="#b50632"/>
<rect x="84.50" y="676.40" width="4.00" height="1" fill="#8fb0df"/>
<rect x="127.40" y="676.40" width="24.77" height="1" fill="#ef7b95"/>
<text x="81.60" y="675.47" font-size="8.3" fill="#5a6582" text-anchor="end" stroke="#5a6582" stroke-width="0.05" >2</text>
<text x="155.37" y="675.47" font-size="8.3" fill="#a13e5e" stroke="#a13e5e" stroke-width="0.05" >5</text>
<text x="108.80" y="675.72" font-size="6.7" fill="#2e2e2e" text-anchor="middle" font-style="italic" textLength="15.56" lengthAdjust="spacingAndGlyphs" stroke="#2e2e2e" stroke-width="0.13" >TET2</text>
<rect x="72.50" y="677.40" width="16.00" height="7.28" fill="#294785"/>
<rect x="127.40" y="677.40" width="29.72" height="7.28" fill="#b50632"/>
<rect x="72.50" y="684.68" width="16.00" height="1" fill="#8fb0df"/>
<rect x="127.40" y="684.68" width="29.72" height="1" fill="#ef7b95"/>
<text x="69.60" y="683.75" font-size="8.3" fill="#5a6582" text-anchor="end" stroke="#5a6582" stroke-width="0.05" >8</text>
<text x="160.32" y="683.75" font-size="8.3" fill="#a13e5e" stroke="#a13e5e" stroke-width="0.05" >6</text>
<text x="108.80" y="684.00" font-size="6.7" fill="#2e2e2e" text-anchor="middle" font-style="italic" textLength="22.99" lengthAdjust="spacingAndGlyphs" stroke="#2e2e2e" stroke-width="0.13" >ARID1A</text>
<rect x="58.50" y="685.68" width="30.00" height="7.28" fill="#294785"/>
<rect x="127.40" y="685.68" width="44.58" height="7.28" fill="#b50632"/>
<text x="55.60" y="692.03" font-size="8.3" fill="#5a6582" text-anchor="end" stroke="#5a6582" stroke-width="0.05" >15</text>
<text x="175.18" y="692.03" font-size="8.3" fill="#a13e5e" stroke="#a13e5e" stroke-width="0.05" >9</text>
<text x="108.80" y="692.28" font-size="6.7" fill="#2e2e2e" text-anchor="middle" font-style="italic" textLength="20.87" lengthAdjust="spacingAndGlyphs" stroke="#2e2e2e" stroke-width="0.13" >GNA13</text>
<line x1="88.5" y1="53" x2="88.5" y2="695.61" stroke="#1b1b24" stroke-width="1"/>
<line x1="127.4" y1="53" x2="127.4" y2="695.61" stroke="#1b1b24" stroke-width="1"/>
<line x1="22" y1="55.8" x2="88.5" y2="55.8" stroke="#1b1b24" stroke-width="0.9"/>
<line x1="127.4" y1="55.8" x2="194.2" y2="55.8" stroke="#1b1b24" stroke-width="0.9"/>
<line x1="88.50" y1="53" x2="88.50" y2="55.8" stroke="#1b1b24" stroke-width="0.9"/>
<line x1="127.40" y1="53" x2="127.40" y2="55.8" stroke="#1b1b24" stroke-width="0.9"/>
<line x1="72.50" y1="53" x2="72.50" y2="55.8" stroke="#1b1b24" stroke-width="0.9"/>
<line x1="143.52" y1="53" x2="143.52" y2="55.8" stroke="#1b1b24" stroke-width="0.9"/>
<line x1="56.50" y1="53" x2="56.50" y2="55.8" stroke="#1b1b24" stroke-width="0.9"/>
<line x1="159.64" y1="53" x2="159.64" y2="55.8" stroke="#1b1b24" stroke-width="0.9"/>
<line x1="40.50" y1="53" x2="40.50" y2="55.8" stroke="#1b1b24" stroke-width="0.9"/>
<line x1="175.76" y1="53" x2="175.76" y2="55.8" stroke="#1b1b24" stroke-width="0.9"/>
<line x1="24.50" y1="53" x2="24.50" y2="55.8" stroke="#1b1b24" stroke-width="0.9"/>
<line x1="191.88" y1="53" x2="191.88" y2="55.8" stroke="#1b1b24" stroke-width="0.9"/>
<line x1="88.5" y1="55.80" x2="91.90" y2="55.80" stroke="#1b1b24" stroke-width="1.0"/>
<line x1="124.00" y1="55.80" x2="127.4" y2="55.80" stroke="#1b1b24" stroke-width="1.0"/>
<line x1="88.5" y1="64.08" x2="91.90" y2="64.08" stroke="#1b1b24" stroke-width="1.0"/>
<line x1="124.00" y1="64.08" x2="127.4" y2="64.08" stroke="#1b1b24" stroke-width="1.0"/>
<line x1="88.5" y1="72.36" x2="91.90" y2="72.36" stroke="#1b1b24" stroke-width="1.0"/>
<line x1="124.00" y1="72.36" x2="127.4" y2="72.36" stroke="#1b1b24" stroke-width="1.0"/>
<line x1="88.5" y1="80.65" x2="91.90" y2="80.65" stroke="#1b1b24" stroke-width="1.0"/>
<line x1="124.00" y1="80.65" x2="127.4" y2="80.65" stroke="#1b1b24" stroke-width="1.0"/>
<line x1="88.5" y1="88.93" x2="91.90" y2="88.93" stroke="#1b1b24" stroke-width="1.0"/>
<line x1="124.00" y1="88.93" x2="127.4" y2="88.93" stroke="#1b1b24" stroke-width="1.0"/>
<line x1="88.5" y1="97.21" x2="91.90" y2="97.21" stroke="#1b1b24" stroke-width="1.0"/>
<line x1="124.00" y1="97.21" x2="127.4" y2="97.21" stroke="#1b1b24" stroke-width="1.0"/>
<line x1="88.5" y1="105.49" x2="91.90" y2="105.49" stroke="#1b1b24" stroke-width="1.0"/>
<line x1="124.00" y1="105.49" x2="127.4" y2="105.49" stroke="#1b1b24" stroke-width="1.0"/>
<line x1="88.5" y1="113.77" x2="91.90" y2="113.77" stroke="#1b1b24" stroke-width="1.0"/>
<line x1="124.00" y1="113.77" x2="127.4" y2="113.77" stroke="#1b1b24" stroke-width="1.0"/>
<line x1="88.5" y1="122.06" x2="91.90" y2="122.06" stroke="#1b1b24" stroke-width="1.0"/>
<line x1="124.00" y1="122.06" x2="127.4" y2="122.06" stroke="#1b1b24" stroke-width="1.0"/>
<line x1="88.5" y1="130.34" x2="91.90" y2="130.34" stroke="#1b1b24" stroke-width="1.0"/>
<line x1="124.00" y1="130.34" x2="127.4" y2="130.34" stroke="#1b1b24" stroke-width="1.0"/>
<line x1="88.5" y1="138.62" x2="91.90" y2="138.62" stroke="#1b1b24" stroke-width="1.0"/>
<line x1="124.00" y1="138.62" x2="127.4" y2="138.62" stroke="#1b1b24" stroke-width="1.0"/>
<line x1="88.5" y1="146.90" x2="91.90" y2="146.90" stroke="#1b1b24" stroke-width="1.0"/>
<line x1="124.00" y1="146.90" x2="127.4" y2="146.90" stroke="#1b1b24" stroke-width="1.0"/>
<line x1="88.5" y1="155.18" x2="91.90" y2="155.18" stroke="#1b1b24" stroke-width="1.0"/>
<line x1="124.00" y1="155.18" x2="127.4" y2="155.18" stroke="#1b1b24" stroke-width="1.0"/>
<line x1="88.5" y1="163.47" x2="91.90" y2="163.47" stroke="#1b1b24" stroke-width="1.0"/>
<line x1="124.00" y1="163.47" x2="127.4" y2="163.47" stroke="#1b1b24" stroke-width="1.0"/>
<line x1="88.5" y1="171.75" x2="91.90" y2="171.75" stroke="#1b1b24" stroke-width="1.0"/>
<line x1="124.00" y1="171.75" x2="127.4" y2="171.75" stroke="#1b1b24" stroke-width="1.0"/>
<line x1="88.5" y1="180.03" x2="91.90" y2="180.03" stroke="#1b1b24" stroke-width="1.0"/>
<line x1="124.00" y1="180.03" x2="127.4" y2="180.03" stroke="#1b1b24" stroke-width="1.0"/>
<line x1="88.5" y1="188.31" x2="91.90" y2="188.31" stroke="#1b1b24" stroke-width="1.0"/>
<line x1="124.00" y1="188.31" x2="127.4" y2="188.31" stroke="#1b1b24" stroke-width="1.0"/>
<line x1="88.5" y1="196.59" x2="91.90" y2="196.59" stroke="#1b1b24" stroke-width="1.0"/>
<line x1="124.00" y1="196.59" x2="127.4" y2="196.59" stroke="#1b1b24" stroke-width="1.0"/>
<line x1="88.5" y1="204.88" x2="91.90" y2="204.88" stroke="#1b1b24" stroke-width="1.0"/>
<line x1="124.00" y1="204.88" x2="127.4" y2="204.88" stroke="#1b1b24" stroke-width="1.0"/>
<line x1="88.5" y1="213.16" x2="91.90" y2="213.16" stroke="#1b1b24" stroke-width="1.0"/>
<line x1="124.00" y1="213.16" x2="127.4" y2="213.16" stroke="#1b1b24" stroke-width="1.0"/>
<line x1="88.5" y1="221.44" x2="91.90" y2="221.44" stroke="#1b1b24" stroke-width="1.0"/>
<line x1="124.00" y1="221.44" x2="127.4" y2="221.44" stroke="#1b1b24" stroke-width="1.0"/>
<line x1="88.5" y1="229.72" x2="91.90" y2="229.72" stroke="#1b1b24" stroke-width="1.0"/>
<line x1="124.00" y1="229.72" x2="127.4" y2="229.72" stroke="#1b1b24" stroke-width="1.0"/>
<line x1="88.5" y1="238.00" x2="91.90" y2="238.00" stroke="#1b1b24" stroke-width="1.0"/>
<line x1="124.00" y1="238.00" x2="127.4" y2="238.00" stroke="#1b1b24" stroke-width="1.0"/>
<line x1="88.5" y1="246.29" x2="91.90" y2="246.29" stroke="#1b1b24" stroke-width="1.0"/>
<line x1="124.00" y1="246.29" x2="127.4" y2="246.29" stroke="#1b1b24" stroke-width="1.0"/>
<line x1="88.5" y1="254.57" x2="91.90" y2="254.57" stroke="#1b1b24" stroke-width="1.0"/>
<line x1="124.00" y1="254.57" x2="127.4" y2="254.57" stroke="#1b1b24" stroke-width="1.0"/>
<line x1="88.5" y1="262.85" x2="91.90" y2="262.85" stroke="#1b1b24" stroke-width="1.0"/>
<line x1="124.00" y1="262.85" x2="127.4" y2="262.85" stroke="#1b1b24" stroke-width="1.0"/>
<line x1="88.5" y1="271.13" x2="91.90" y2="271.13" stroke="#1b1b24" stroke-width="1.0"/>
<line x1="124.00" y1="271.13" x2="127.4" y2="271.13" stroke="#1b1b24" stroke-width="1.0"/>
<line x1="88.5" y1="279.41" x2="91.90" y2="279.41" stroke="#1b1b24" stroke-width="1.0"/>
<line x1="124.00" y1="279.41" x2="127.4" y2="279.41" stroke="#1b1b24" stroke-width="1.0"/>
<line x1="88.5" y1="287.70" x2="91.90" y2="287.70" stroke="#1b1b24" stroke-width="1.0"/>
<line x1="124.00" y1="287.70" x2="127.4" y2="287.70" stroke="#1b1b24" stroke-width="1.0"/>
<line x1="88.5" y1="295.98" x2="91.90" y2="295.98" stroke="#1b1b24" stroke-width="1.0"/>
<line x1="124.00" y1="295.98" x2="127.4" y2="295.98" stroke="#1b1b24" stroke-width="1.0"/>
<line x1="88.5" y1="304.26" x2="91.90" y2="304.26" stroke="#1b1b24" stroke-width="1.0"/>
<line x1="124.00" y1="304.26" x2="127.4" y2="304.26" stroke="#1b1b24" stroke-width="1.0"/>
<line x1="88.5" y1="312.54" x2="91.90" y2="312.54" stroke="#1b1b24" stroke-width="1.0"/>
<line x1="124.00" y1="312.54" x2="127.4" y2="312.54" stroke="#1b1b24" stroke-width="1.0"/>
<line x1="88.5" y1="320.82" x2="91.90" y2="320.82" stroke="#1b1b24" stroke-width="1.0"/>
<line x1="124.00" y1="320.82" x2="127.4" y2="320.82" stroke="#1b1b24" stroke-width="1.0"/>
<line x1="88.5" y1="329.11" x2="91.90" y2="329.11" stroke="#1b1b24" stroke-width="1.0"/>
<line x1="124.00" y1="329.11" x2="127.4" y2="329.11" stroke="#1b1b24" stroke-width="1.0"/>
<line x1="88.5" y1="337.39" x2="91.90" y2="337.39" stroke="#1b1b24" stroke-width="1.0"/>
<line x1="124.00" y1="337.39" x2="127.4" y2="337.39" stroke="#1b1b24" stroke-width="1.0"/>
<line x1="88.5" y1="345.67" x2="91.90" y2="345.67" stroke="#1b1b24" stroke-width="1.0"/>
<line x1="124.00" y1="345.67" x2="127.4" y2="345.67" stroke="#1b1b24" stroke-width="1.0"/>
<line x1="88.5" y1="353.95" x2="91.90" y2="353.95" stroke="#1b1b24" stroke-width="1.0"/>
<line x1="124.00" y1="353.95" x2="127.4" y2="353.95" stroke="#1b1b24" stroke-width="1.0"/>
<line x1="88.5" y1="362.23" x2="91.90" y2="362.23" stroke="#1b1b24" stroke-width="1.0"/>
<line x1="124.00" y1="362.23" x2="127.4" y2="362.23" stroke="#1b1b24" stroke-width="1.0"/>
<line x1="88.5" y1="370.52" x2="91.90" y2="370.52" stroke="#1b1b24" stroke-width="1.0"/>
<line x1="124.00" y1="370.52" x2="127.4" y2="370.52" stroke="#1b1b24" stroke-width="1.0"/>
<line x1="88.5" y1="378.80" x2="91.90" y2="378.80" stroke="#1b1b24" stroke-width="1.0"/>
<line x1="124.00" y1="378.80" x2="127.4" y2="378.80" stroke="#1b1b24" stroke-width="1.0"/>
<line x1="88.5" y1="387.08" x2="91.90" y2="387.08" stroke="#1b1b24" stroke-width="1.0"/>
<line x1="124.00" y1="387.08" x2="127.4" y2="387.08" stroke="#1b1b24" stroke-width="1.0"/>
<line x1="88.5" y1="395.36" x2="91.90" y2="395.36" stroke="#1b1b24" stroke-width="1.0"/>
<line x1="124.00" y1="395.36" x2="127.4" y2="395.36" stroke="#1b1b24" stroke-width="1.0"/>
<line x1="88.5" y1="403.64" x2="91.90" y2="403.64" stroke="#1b1b24" stroke-width="1.0"/>
<line x1="124.00" y1="403.64" x2="127.4" y2="403.64" stroke="#1b1b24" stroke-width="1.0"/>
<line x1="88.5" y1="411.93" x2="91.90" y2="411.93" stroke="#1b1b24" stroke-width="1.0"/>
<line x1="124.00" y1="411.93" x2="127.4" y2="411.93" stroke="#1b1b24" stroke-width="1.0"/>
<line x1="88.5" y1="420.21" x2="91.90" y2="420.21" stroke="#1b1b24" stroke-width="1.0"/>
<line x1="124.00" y1="420.21" x2="127.4" y2="420.21" stroke="#1b1b24" stroke-width="1.0"/>
<line x1="88.5" y1="428.49" x2="91.90" y2="428.49" stroke="#1b1b24" stroke-width="1.0"/>
<line x1="124.00" y1="428.49" x2="127.4" y2="428.49" stroke="#1b1b24" stroke-width="1.0"/>
<line x1="88.5" y1="436.77" x2="91.90" y2="436.77" stroke="#1b1b24" stroke-width="1.0"/>
<line x1="124.00" y1="436.77" x2="127.4" y2="436.77" stroke="#1b1b24" stroke-width="1.0"/>
<line x1="88.5" y1="445.05" x2="91.90" y2="445.05" stroke="#1b1b24" stroke-width="1.0"/>
<line x1="124.00" y1="445.05" x2="127.4" y2="445.05" stroke="#1b1b24" stroke-width="1.0"/>
<line x1="88.5" y1="453.34" x2="91.90" y2="453.34" stroke="#1b1b24" stroke-width="1.0"/>
<line x1="124.00" y1="453.34" x2="127.4" y2="453.34" stroke="#1b1b24" stroke-width="1.0"/>
<line x1="88.5" y1="461.62" x2="91.90" y2="461.62" stroke="#1b1b24" stroke-width="1.0"/>
<line x1="124.00" y1="461.62" x2="127.4" y2="461.62" stroke="#1b1b24" stroke-width="1.0"/>
<line x1="88.5" y1="469.90" x2="91.90" y2="469.90" stroke="#1b1b24" stroke-width="1.0"/>
<line x1="124.00" y1="469.90" x2="127.4" y2="469.90" stroke="#1b1b24" stroke-width="1.0"/>
<line x1="88.5" y1="478.18" x2="91.90" y2="478.18" stroke="#1b1b24" stroke-width="1.0"/>
<line x1="124.00" y1="478.18" x2="127.4" y2="478.18" stroke="#1b1b24" stroke-width="1.0"/>
<line x1="88.5" y1="486.46" x2="91.90" y2="486.46" stroke="#1b1b24" stroke-width="1.0"/>
<line x1="124.00" y1="486.46" x2="127.4" y2="486.46" stroke="#1b1b24" stroke-width="1.0"/>
<line x1="88.5" y1="494.75" x2="91.90" y2="494.75" stroke="#1b1b24" stroke-width="1.0"/>
<line x1="124.00" y1="494.75" x2="127.4" y2="494.75" stroke="#1b1b24" stroke-width="1.0"/>
<line x1="88.5" y1="503.03" x2="91.90" y2="503.03" stroke="#1b1b24" stroke-width="1.0"/>
<line x1="124.00" y1="503.03" x2="127.4" y2="503.03" stroke="#1b1b24" stroke-width="1.0"/>
<line x1="88.5" y1="511.31" x2="91.90" y2="511.31" stroke="#1b1b24" stroke-width="1.0"/>
<line x1="124.00" y1="511.31" x2="127.4" y2="511.31" stroke="#1b1b24" stroke-width="1.0"/>
<line x1="88.5" y1="519.59" x2="91.90" y2="519.59" stroke="#1b1b24" stroke-width="1.0"/>
<line x1="124.00" y1="519.59" x2="127.4" y2="519.59" stroke="#1b1b24" stroke-width="1.0"/>
<line x1="88.5" y1="527.87" x2="91.90" y2="527.87" stroke="#1b1b24" stroke-width="1.0"/>
<line x1="124.00" y1="527.87" x2="127.4" y2="527.87" stroke="#1b1b24" stroke-width="1.0"/>
<line x1="88.5" y1="536.16" x2="91.90" y2="536.16" stroke="#1b1b24" stroke-width="1.0"/>
<line x1="124.00" y1="536.16" x2="127.4" y2="536.16" stroke="#1b1b24" stroke-width="1.0"/>
<line x1="88.5" y1="544.44" x2="91.90" y2="544.44" stroke="#1b1b24" stroke-width="1.0"/>
<line x1="124.00" y1="544.44" x2="127.4" y2="544.44" stroke="#1b1b24" stroke-width="1.0"/>
<line x1="88.5" y1="552.72" x2="91.90" y2="552.72" stroke="#1b1b24" stroke-width="1.0"/>
<line x1="124.00" y1="552.72" x2="127.4" y2="552.72" stroke="#1b1b24" stroke-width="1.0"/>
<line x1="88.5" y1="561.00" x2="91.90" y2="561.00" stroke="#1b1b24" stroke-width="1.0"/>
<line x1="124.00" y1="561.00" x2="127.4" y2="561.00" stroke="#1b1b24" stroke-width="1.0"/>
<line x1="88.5" y1="569.28" x2="91.90" y2="569.28" stroke="#1b1b24" stroke-width="1.0"/>
<line x1="124.00" y1="569.28" x2="127.4" y2="569.28" stroke="#1b1b24" stroke-width="1.0"/>
<line x1="88.5" y1="577.57" x2="91.90" y2="577.57" stroke="#1b1b24" stroke-width="1.0"/>
<line x1="124.00" y1="577.57" x2="127.4" y2="577.57" stroke="#1b1b24" stroke-width="1.0"/>
<line x1="88.5" y1="585.85" x2="91.90" y2="585.85" stroke="#1b1b24" stroke-width="1.0"/>
<line x1="124.00" y1="585.85" x2="127.4" y2="585.85" stroke="#1b1b24" stroke-width="1.0"/>
<line x1="88.5" y1="594.13" x2="91.90" y2="594.13" stroke="#1b1b24" stroke-width="1.0"/>
<line x1="124.00" y1="594.13" x2="127.4" y2="594.13" stroke="#1b1b24" stroke-width="1.0"/>
<line x1="88.5" y1="602.41" x2="91.90" y2="602.41" stroke="#1b1b24" stroke-width="1.0"/>
<line x1="124.00" y1="602.41" x2="127.4" y2="602.41" stroke="#1b1b24" stroke-width="1.0"/>
<line x1="88.5" y1="610.69" x2="91.90" y2="610.69" stroke="#1b1b24" stroke-width="1.0"/>
<line x1="124.00" y1="610.69" x2="127.4" y2="610.69" stroke="#1b1b24" stroke-width="1.0"/>
<line x1="88.5" y1="618.98" x2="91.90" y2="618.98" stroke="#1b1b24" stroke-width="1.0"/>
<line x1="124.00" y1="618.98" x2="127.4" y2="618.98" stroke="#1b1b24" stroke-width="1.0"/>
<line x1="88.5" y1="627.26" x2="91.90" y2="627.26" stroke="#1b1b24" stroke-width="1.0"/>
<line x1="124.00" y1="627.26" x2="127.4" y2="627.26" stroke="#1b1b24" stroke-width="1.0"/>
<line x1="88.5" y1="635.54" x2="91.90" y2="635.54" stroke="#1b1b24" stroke-width="1.0"/>
<line x1="124.00" y1="635.54" x2="127.4" y2="635.54" stroke="#1b1b24" stroke-width="1.0"/>
<line x1="88.5" y1="643.82" x2="91.90" y2="643.82" stroke="#1b1b24" stroke-width="1.0"/>
<line x1="124.00" y1="643.82" x2="127.4" y2="643.82" stroke="#1b1b24" stroke-width="1.0"/>
<line x1="88.5" y1="652.10" x2="91.90" y2="652.10" stroke="#1b1b24" stroke-width="1.0"/>
<line x1="124.00" y1="652.10" x2="127.4" y2="652.10" stroke="#1b1b24" stroke-width="1.0"/>
<line x1="88.5" y1="660.39" x2="91.90" y2="660.39" stroke="#1b1b24" stroke-width="1.0"/>
<line x1="124.00" y1="660.39" x2="127.4" y2="660.39" stroke="#1b1b24" stroke-width="1.0"/>
<line x1="88.5" y1="668.67" x2="91.90" y2="668.67" stroke="#1b1b24" stroke-width="1.0"/>
<line x1="124.00" y1="668.67" x2="127.4" y2="668.67" stroke="#1b1b24" stroke-width="1.0"/>
<line x1="88.5" y1="676.95" x2="91.90" y2="676.95" stroke="#1b1b24" stroke-width="1.0"/>
<line x1="124.00" y1="676.95" x2="127.4" y2="676.95" stroke="#1b1b24" stroke-width="1.0"/>
<line x1="88.5" y1="685.23" x2="91.90" y2="685.23" stroke="#1b1b24" stroke-width="1.0"/>
<line x1="124.00" y1="685.23" x2="127.4" y2="685.23" stroke="#1b1b24" stroke-width="1.0"/>
<line x1="88.5" y1="693.51" x2="91.90" y2="693.51" stroke="#1b1b24" stroke-width="1.0"/>
<line x1="124.00" y1="693.51" x2="127.4" y2="693.51" stroke="#1b1b24" stroke-width="1.0"/>
<text x="204.10" y="17.70" font-size="11.8" fill="#111" font-weight="bold" textLength="7.80" lengthAdjust="spacingAndGlyphs" stroke="#111" stroke-width="0.3" >B</text>
<ellipse cx="284.3" cy="87.5" rx="70.4" ry="72.3" fill="#67a7dd"/>
<ellipse cx="339" cy="87.1" rx="73" ry="72.8" fill="#c3007a"/>
<clipPath id="cl"><ellipse cx="284.3" cy="87.5" rx="70.4" ry="72.3"/></clipPath>
<ellipse cx="339" cy="87.1" rx="73" ry="72.8" fill="#532466" clip-path="url(#cl)"/>
<text x="245.70" y="87.80" font-size="8.2" fill="#e8f6ff" text-anchor="middle" textLength="8.60" lengthAdjust="spacingAndGlyphs" >27</text>
<text x="308.40" y="87.80" font-size="8.2" fill="#e8f6ff" text-anchor="middle" textLength="8.60" lengthAdjust="spacingAndGlyphs" >33</text>
<text x="379.80" y="87.80" font-size="8.2" fill="#e8f6ff" text-anchor="middle" textLength="8.60" lengthAdjust="spacingAndGlyphs" >29</text>
<rect x="393.2" y="144.6" width="11.5" height="10.8" fill="#62a3dc"/>
<text x="407.70" y="152.30" font-size="8.1" fill="#333" textLength="89.57" lengthAdjust="spacingAndGlyphs" stroke="#333" stroke-width="0.06" >Tumor specific at baseline</text>
<rect x="393.2" y="158.2" width="11.5" height="10.8" fill="#c4007c"/>
<text x="407.70" y="165.90" font-size="8.1" fill="#333" textLength="86.13" lengthAdjust="spacingAndGlyphs" stroke="#333" stroke-width="0.06" >Tumor specific at relapse</text>
<rect x="393.2" y="171.7" width="11.5" height="10.8" fill="#4c1f62"/>
<text x="407.70" y="179.50" font-size="8.1" fill="#333" textLength="24.95" lengthAdjust="spacingAndGlyphs" stroke="#333" stroke-width="0.06" >Shared</text>
<text x="204.00" y="208.60" font-size="11.8" fill="#111" font-weight="bold" textLength="7.70" lengthAdjust="spacingAndGlyphs" stroke="#111" stroke-width="0.3" >C</text>
<line x1="280.2" y1="315.1" x2="371.0" y2="206.9" stroke="#6c1533" stroke-width="1.2"/>
<line x1="280.2" y1="315.1" x2="409.5" y2="252.5" stroke="#6c1533" stroke-width="1.2"/>
<line x1="280.2" y1="315.1" x2="424.4" y2="316.1" stroke="#6c1533" stroke-width="1.2"/>
<line x1="280.2" y1="315.1" x2="408.6" y2="379.6" stroke="#6c1533" stroke-width="1.2"/>
<line x1="280.2" y1="315.1" x2="367.5" y2="429.0" stroke="#6c1533" stroke-width="1.2"/>
<line x1="280.2" y1="315.1" x2="311.2" y2="456.7" stroke="#6c1533" stroke-width="1.2"/>
<line x1="280.2" y1="315.1" x2="256.8" y2="411.6" stroke="#6c1533" stroke-width="1.2"/>
<line x1="280.2" y1="315.1" x2="237.1" y2="370.3" stroke="#6c1533" stroke-width="1.2"/>
<line x1="280.2" y1="315.1" x2="220.5" y2="344.2" stroke="#6c1533" stroke-width="1.2"/>
<line x1="280.2" y1="315.1" x2="228.1" y2="315.6" stroke="#6c1533" stroke-width="1.2"/>
<line x1="280.2" y1="315.1" x2="242.6" y2="297.7" stroke="#6c1533" stroke-width="1.2"/>
<line x1="280.2" y1="315.1" x2="258.4" y2="285.6" stroke="#6c1533" stroke-width="1.2"/>
<line x1="280.2" y1="315.1" x2="280.3" y2="282.7" stroke="#6c1533" stroke-width="1.2"/>
<circle cx="371.0" cy="206.9" r="8.2" fill="#aa1038"/>
<text x="371.00" y="206.00" font-size="6.3" fill="#fbd9e2" text-anchor="middle" textLength="12.24" lengthAdjust="spacingAndGlyphs" stroke="#fbd9e2" stroke-width="0.15" >UPN</text>
<text x="371.00" y="213.30" font-size="6.2" fill="#fbd9e2" text-anchor="middle" stroke="#fbd9e2" stroke-width="0.15" >6</text>
<circle cx="409.5" cy="252.5" r="8.2" fill="#aa1038"/>
<text x="409.50" y="250.60" font-size="6.3" fill="#fbd9e2" text-anchor="middle" textLength="10.31" lengthAdjust="spacingAndGlyphs" stroke="#fbd9e2" stroke-width="0.15" >cHL</text>
<text x="409.50" y="258.10" font-size="6.2" fill="#fbd9e2" text-anchor="middle" stroke="#fbd9e2" stroke-width="0.15" >72</text>
<circle cx="424.4" cy="316.1" r="8.2" fill="#aa1038"/>
<text x="424.40" y="314.20" font-size="6.3" fill="#fbd9e2" text-anchor="middle" textLength="10.31" lengthAdjust="spacingAndGlyphs" stroke="#fbd9e2" stroke-width="0.15" >cHL</text>
<text x="424.40" y="321.70" font-size="6.2" fill="#fbd9e2" text-anchor="middle" stroke="#fbd9e2" stroke-width="0.15" >70</text>
<circle cx="408.6" cy="379.6" r="8.2" fill="#aa1038"/>
<text x="408.60" y="377.70" font-size="6.3" fill="#fbd9e2" text-anchor="middle" textLength="10.31" lengthAdjust="spacingAndGlyphs" stroke="#fbd9e2" stroke-width="0.15" >cHL</text>
<text x="408.60" y="385.20" font-size="6.2" fill="#fbd9e2" text-anchor="middle" stroke="#fbd9e2" stroke-width="0.15" >69</text>
<circle cx="367.5" cy="429.0" r="8.2" fill="#aa1038"/>
<text x="367.50" y="427.10" font-size="6.3" fill="#fbd9e2" text-anchor="middle" textLength="10.31" lengthAdjust="spacingAndGlyphs" stroke="#fbd9e2" stroke-width="0.15" >cHL</text>
<text x="367.50" y="434.60" font-size="6.2" fill="#fbd9e2" text-anchor="middle" stroke="#fbd9e2" stroke-width="0.15" >68</text>
<circle cx="311.2" cy="456.7" r="8.2" fill="#aa1038"/>
<text x="311.20" y="454.80" font-size="6.3" fill="#fbd9e2" text-anchor="middle" textLength="10.31" lengthAdjust="spacingAndGlyphs" stroke="#fbd9e2" stroke-width="0.15" >cHL</text>
<text x="311.20" y="462.30" font-size="6.2" fill="#fbd9e2" text-anchor="middle" stroke="#fbd9e2" stroke-width="0.15" >58</text>
<circle cx="256.8" cy="411.6" r="8.2" fill="#aa1038"/>
<text x="256.80" y="409.70" font-size="6.3" fill="#fbd9e2" text-anchor="middle" textLength="10.31" lengthAdjust="spacingAndGlyphs" stroke="#fbd9e2" stroke-width="0.15" >cHL</text>
<text x="256.80" y="417.20" font-size="6.2" fill="#fbd9e2" text-anchor="middle" stroke="#fbd9e2" stroke-width="0.15" >51</text>
<circle cx="237.1" cy="370.3" r="8.2" fill="#aa1038"/>
<text x="237.10" y="368.40" font-size="6.3" fill="#fbd9e2" text-anchor="middle" textLength="10.31" lengthAdjust="spacingAndGlyphs" stroke="#fbd9e2" stroke-width="0.15" >cHL</text>
<text x="237.10" y="375.90" font-size="6.2" fill="#fbd9e2" text-anchor="middle" stroke="#fbd9e2" stroke-width="0.15" >57</text>
<circle cx="220.5" cy="344.2" r="8.2" fill="#aa1038"/>
<text x="220.50" y="342.30" font-size="6.3" fill="#fbd9e2" text-anchor="middle" textLength="10.31" lengthAdjust="spacingAndGlyphs" stroke="#fbd9e2" stroke-width="0.15" >cHL</text>
<text x="220.50" y="349.80" font-size="6.2" fill="#fbd9e2" text-anchor="middle" stroke="#fbd9e2" stroke-width="0.15" >71</text>
<circle cx="228.1" cy="315.6" r="8.2" fill="#aa1038"/>
<text x="228.10" y="313.70" font-size="6.3" fill="#fbd9e2" text-anchor="middle" textLength="10.31" lengthAdjust="spacingAndGlyphs" stroke="#fbd9e2" stroke-width="0.15" >cHL</text>
<text x="228.10" y="321.20" font-size="6.2" fill="#fbd9e2" text-anchor="middle" stroke="#fbd9e2" stroke-width="0.15" >54</text>
<circle cx="242.6" cy="297.7" r="8.2" fill="#aa1038"/>
<text x="242.60" y="295.80" font-size="6.3" fill="#fbd9e2" text-anchor="middle" textLength="10.31" lengthAdjust="spacingAndGlyphs" stroke="#fbd9e2" stroke-width="0.15" >cHL</text>
<text x="242.60" y="303.30" font-size="6.2" fill="#fbd9e2" text-anchor="middle" stroke="#fbd9e2" stroke-width="0.15" >52</text>
<circle cx="258.4" cy="285.6" r="8.2" fill="#aa1038"/>
<text x="258.40" y="283.70" font-size="6.3" fill="#fbd9e2" text-anchor="middle" textLength="10.31" lengthAdjust="spacingAndGlyphs" stroke="#fbd9e2" stroke-width="0.15" >cHL</text>
<text x="258.40" y="291.20" font-size="6.2" fill="#fbd9e2" text-anchor="middle" stroke="#fbd9e2" stroke-width="0.15" >55</text>
<circle cx="280.3" cy="282.7" r="8.2" fill="#aa1038"/>
<text x="280.30" y="280.80" font-size="6.3" fill="#fbd9e2" text-anchor="middle" textLength="10.31" lengthAdjust="spacingAndGlyphs" stroke="#fbd9e2" stroke-width="0.15" >cHL</text>
<text x="280.30" y="288.30" font-size="6.2" fill="#fbd9e2" text-anchor="middle" stroke="#fbd9e2" stroke-width="0.15" >59</text>
<circle cx="280.2" cy="315.1" r="8.3" fill="#2c4e90"/>
<text x="279.90" y="316.90" font-size="6.8" fill="#e6eefc" text-anchor="middle" textLength="6.90" lengthAdjust="spacingAndGlyphs" stroke="#e6eefc" stroke-width="0.1" >T1</text>
<line x1="443.8" y1="437.1" x2="469.7" y2="437.1" stroke="#6c1533" stroke-width="1.3"/>
<circle cx="443.8" cy="437.1" r="7.3" fill="#2c4e90"/>
<circle cx="469.7" cy="437.1" r="7.3" fill="#aa1038"/>
<text x="443.60" y="439.30" font-size="6.2" fill="#e6eefc" text-anchor="middle" stroke="#e6eefc" stroke-width="0.08" >T1</text>
<text x="469.50" y="439.30" font-size="6.2" fill="#fbd9e2" text-anchor="middle" stroke="#fbd9e2" stroke-width="0.08" >T2</text>
<text x="450.85" y="460.60" font-size="8.0" fill="#333" text-anchor="middle" textLength="115.70" lengthAdjust="spacingAndGlyphs" stroke="#333" stroke-width="0.12" >Scale by the fraction of mutations</text>
<text x="450.00" y="469.00" font-size="8.0" fill="#333" text-anchor="middle" textLength="86.20" lengthAdjust="spacingAndGlyphs" stroke="#333" stroke-width="0.12" >unique to each timepoint</text>
<text x="203.80" y="497.60" font-size="11.6" fill="#111" font-weight="bold" textLength="8.70" lengthAdjust="spacingAndGlyphs" stroke="#111" stroke-width="0.3" >D</text>
<text x="258.60" y="507.00" font-size="8.4" fill="#222" textLength="24.80" lengthAdjust="spacingAndGlyphs" stroke="#222" stroke-width="0.12" >cHL 57</text>
<rect x="252.4" y="511" width="134.7" height="83.1" fill="#69a8de"/>
<line x1="252.0" y1="510.3" x2="252.0" y2="659.9" stroke="#111" stroke-width="1.3"/>
<line x1="251.4" y1="659.2" x2="386.5" y2="659.2" stroke="#111" stroke-width="1.3"/>
<line x1="249.2" y1="511" x2="252" y2="511" stroke="#111" stroke-width="1.3"/>
<text x="247.00" y="513.70" font-size="8.0" fill="#333" text-anchor="end" textLength="18.82" lengthAdjust="spacingAndGlyphs" stroke="#333" stroke-width="0.1" >100%</text>
<line x1="249.2" y1="540.8" x2="252" y2="540.8" stroke="#111" stroke-width="1.3"/>
<text x="247.00" y="543.50" font-size="8.0" fill="#333" text-anchor="end" textLength="14.73" lengthAdjust="spacingAndGlyphs" stroke="#333" stroke-width="0.1" >80%</text>
<line x1="249.2" y1="570.4" x2="252" y2="570.4" stroke="#111" stroke-width="1.3"/>
<text x="247.00" y="573.10" font-size="8.0" fill="#333" text-anchor="end" textLength="14.73" lengthAdjust="spacingAndGlyphs" stroke="#333" stroke-width="0.1" >60%</text>
<line x1="249.2" y1="600" x2="252" y2="600" stroke="#111" stroke-width="1.3"/>
<text x="247.00" y="602.70" font-size="8.0" fill="#333" text-anchor="end" textLength="14.73" lengthAdjust="spacingAndGlyphs" stroke="#333" stroke-width="0.1" >40%</text>
<line x1="249.2" y1="629.5" x2="252" y2="629.5" stroke="#111" stroke-width="1.3"/>
<text x="247.00" y="632.20" font-size="8.0" fill="#333" text-anchor="end" textLength="14.73" lengthAdjust="spacingAndGlyphs" stroke="#333" stroke-width="0.1" >20%</text>
<line x1="249.2" y1="659.2" x2="252" y2="659.2" stroke="#111" stroke-width="1.3"/>
<text x="247.00" y="661.90" font-size="8.0" fill="#333" text-anchor="end" textLength="10.64" lengthAdjust="spacingAndGlyphs" stroke="#333" stroke-width="0.1" >0%</text>
<g transform="translate(219.2,582.6) rotate(-90)">
<text x="0.00" y="0.00" font-size="8.2" fill="#2a2a2a" text-anchor="middle" textLength="86.00" lengthAdjust="spacingAndGlyphs" stroke="#2a2a2a" stroke-width="0.28" >Fraction of mutations (%)</text>
</g>
<text x="263.30" y="518.70" font-size="7.8" fill="#6f2480" font-style="italic" textLength="49.00" lengthAdjust="spacingAndGlyphs" stroke="#6f2480" stroke-width="0.15" >ARID1A CD58</text>
<text x="263.30" y="527.80" font-size="7.8" fill="#6f2480" font-style="italic" textLength="59.90" lengthAdjust="spacingAndGlyphs" stroke="#6f2480" stroke-width="0.15" >PIK3CA TNFAIP3</text>
<text x="263.30" y="536.90" font-size="7.8" fill="#6f2480" font-style="italic" textLength="41.21" lengthAdjust="spacingAndGlyphs" stroke="#6f2480" stroke-width="0.15" >POT1 BCL2</text>
<text x="343.00" y="552.60" font-size="7.8" fill="#3a5690" font-style="italic" textLength="17.66" lengthAdjust="spacingAndGlyphs" stroke="#3a5690" stroke-width="0.15" >PIM1</text>
<text x="343.00" y="561.75" font-size="7.8" fill="#3a5690" font-style="italic" textLength="16.40" lengthAdjust="spacingAndGlyphs" stroke="#3a5690" stroke-width="0.15" >IRF8</text>
<text x="343.00" y="570.90" font-size="7.8" fill="#3a5690" font-style="italic" textLength="30.55" lengthAdjust="spacingAndGlyphs" stroke="#3a5690" stroke-width="0.15" >TNFAIP3</text>
<text x="343.00" y="580.05" font-size="7.8" fill="#3a5690" font-style="italic" textLength="22.42" lengthAdjust="spacingAndGlyphs" stroke="#3a5690" stroke-width="0.15" >STAT3</text>
<text x="288.30" y="601.60" font-size="7.7" fill="#222" font-style="italic" textLength="48.78" lengthAdjust="spacingAndGlyphs" stroke="#222" stroke-width="0.15" >TET2 NFKBIE</text>
<text x="288.30" y="610.10" font-size="7.7" fill="#222" font-style="italic" textLength="43.21" lengthAdjust="spacingAndGlyphs" stroke="#222" stroke-width="0.15" >CIITA ITPKB</text>
<text x="288.30" y="618.60" font-size="7.7" fill="#222" font-style="italic" textLength="56.48" lengthAdjust="spacingAndGlyphs" stroke="#222" stroke-width="0.15" >CCND3 NFKBIE</text>
<text x="288.30" y="627.10" font-size="7.7" fill="#222" font-style="italic" textLength="50.21" lengthAdjust="spacingAndGlyphs" stroke="#222" stroke-width="0.15" >STAT6 GNA13</text>
<defs><marker id="ah" viewBox="0 0 10 10" refX="9" refY="5" markerWidth="5.2" markerHeight="5.2" orient="auto"><path d="M0,0 L10,5 L0,10 z" fill="#0b1526"/></marker></defs>
<line x1="281.5" y1="591" x2="302.4" y2="552.6" stroke="#0b1526" stroke-width="1.3" marker-end="url(#ah)"/>
<line x1="283" y1="591.5" x2="326.5" y2="565.8" stroke="#0b1526" stroke-width="1.3" marker-end="url(#ah)"/>
<line x1="268.4" y1="638.5" x2="276" y2="601.6" stroke="#0b1526" stroke-width="1.3" marker-end="url(#ah)"/>
<circle cx="306.7" cy="544.8" r="6.2" fill="#b00f38" stroke="#d87a98" stroke-width="0.6"/>
<circle cx="333" cy="561.4" r="6" fill="#38578e"/>
<circle cx="280.1" cy="594" r="6.1" fill="#000"/>
<circle cx="266.6" cy="645.4" r="5.8" fill="#c8c8c8"/>
<defs><marker id="ah2" viewBox="0 0 10 7" refX="9.5" refY="3.5" markerWidth="9.6" markerHeight="6.8" orient="auto"><path d="M0,0 L10,3.5 L0,7 L1.8,3.5 z" fill="#111"/></marker></defs>
<line x1="256.3" y1="673.7" x2="308" y2="673.7" stroke="#111" stroke-width="1.1" stroke-dasharray="2.4,1.6"/>
<line x1="308" y1="673.7" x2="389" y2="673.7" stroke="#111" stroke-width="1.1" marker-end="url(#ah2)"/>
<text x="297.60" y="683.80" font-size="8.0" fill="#a8587a" textLength="30.30" lengthAdjust="spacingAndGlyphs" stroke="#a8587a" stroke-width="0.1" >Baseline</text>
<text x="341.70" y="683.80" font-size="8.0" fill="#66749a" textLength="28.00" lengthAdjust="spacingAndGlyphs" stroke="#66749a" stroke-width="0.1" >Relapse</text>
<circle cx="417.8" cy="559.4" r="5.8" fill="#c8c8c8"/>
<text x="427.00" y="562.30" font-size="8.0" fill="#858585" textLength="52.19" lengthAdjust="spacingAndGlyphs" stroke="#858585" stroke-width="0.12" >Germline clone</text>
<circle cx="417.8" cy="573.4" r="5.8" fill="#000"/>
<text x="427.00" y="576.30" font-size="8.0" fill="#333" textLength="85.83" lengthAdjust="spacingAndGlyphs" stroke="#333" stroke-width="0.12" >Common ancestral clone</text>
<circle cx="417.8" cy="588.8" r="5.8" fill="#b00f38"/>
<text x="427.00" y="591.70" font-size="8.0" fill="#333" textLength="50.48" lengthAdjust="spacingAndGlyphs" stroke="#333" stroke-width="0.12" >Baseline clone</text>
<circle cx="417.8" cy="602.7" r="5.8" fill="#2f4f8c"/>
<text x="427.00" y="605.60" font-size="8.0" fill="#333" textLength="49.18" lengthAdjust="spacingAndGlyphs" stroke="#333" stroke-width="0.12" >Relapse clone</text>
<rect x="413.8" y="612.8" width="84.1" height="18.7" fill="#69a8de"/>
<text x="455.60" y="624.90" font-size="8.0" fill="#1f2a48" text-anchor="middle" textLength="62.12" lengthAdjust="spacingAndGlyphs" stroke="#1f2a48" stroke-width="0.12" >Clonal divergence</text>
<rect x="0" y="0" width="520" height="1.5" fill="#000"/><rect x="0" y="0" width="1.3" height="704" fill="#000"/><rect x="518.2" y="0" width="1.8" height="704" fill="#000"/><rect x="0" y="702.4" width="520" height="1.6" fill="#000"/>
</svg>
</body></html>
